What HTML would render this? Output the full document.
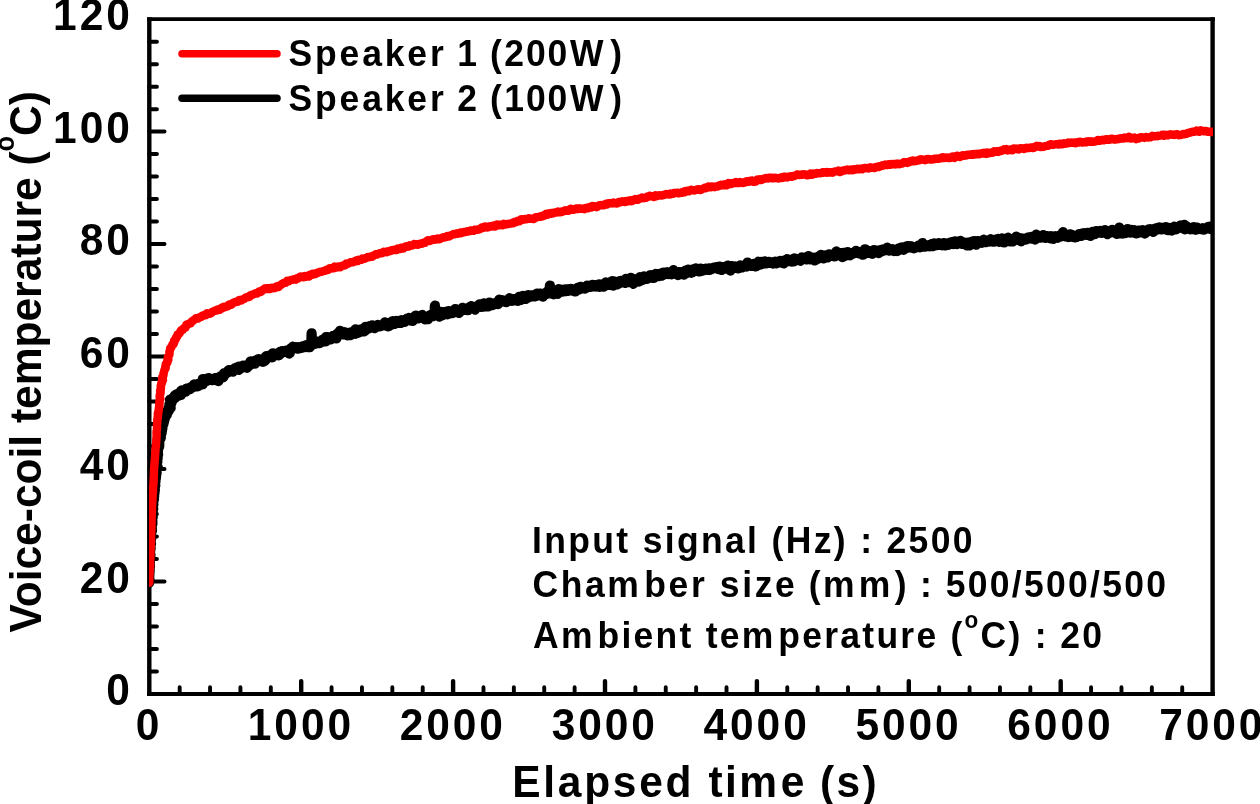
<!DOCTYPE html>
<html lang="en"><head><meta charset="utf-8"><title>Voice-coil temperature vs elapsed time</title>
<style>
html,body{margin:0;padding:0;background:#fff;}
body{width:1260px;height:804px;overflow:hidden;}
svg{display:block;}
text{font-family:"Liberation Sans", Arial, Helvetica, sans-serif;font-weight:700;fill:#000;}
.tk{font-size:42.5px;letter-spacing:2.9px;}
.ax{font-size:42.5px;letter-spacing:2.56px;}
.ay{font-size:42.5px;letter-spacing:0px;}
.lg{font-size:35.5px;letter-spacing:2.67px;}
.an{font-size:35.5px;}
</style></head><body>
<svg width="1260" height="804" viewBox="0 0 1260 804">
<rect width="1260" height="804" fill="#fff"/>
<path d="M149.30 17.20V695.95M1212.60 17.20V695.95" stroke="#000" stroke-width="4.4" fill="none"/>
<path d="M147.10 19.15H1214.80M147.10 694.00H1214.80" stroke="#000" stroke-width="3.9" fill="none"/>
<g fill="none" stroke="#000" stroke-linecap="round"><path d="M149.3 671.50h7.6M149.3 649.01h7.6M149.3 626.51h7.6M149.3 604.02h7.6M149.3 581.52h15.2M149.3 559.03h7.6M149.3 536.53h7.6M149.3 514.04h7.6M149.3 491.54h7.6M149.3 469.05h15.2M149.3 446.55h7.6M149.3 424.06h7.6M149.3 401.56h7.6M149.3 379.07h7.6M149.3 356.57h15.2M149.3 334.08h7.6M149.3 311.58h7.6M149.3 289.09h7.6M149.3 266.60h7.6M149.3 244.10h15.2M149.3 221.60h7.6M149.3 199.11h7.6M149.3 176.62h7.6M149.3 154.12h7.6M149.3 131.62h15.2M149.3 109.13h7.6M149.3 86.63h7.6M149.3 64.14h7.6M149.3 41.64h7.6" stroke-width="4"/><path d="M179.68 693.6v-6.4M210.06 693.6v-6.4M240.44 693.6v-6.4M270.82 693.6v-6.4M331.58 693.6v-6.4M361.96 693.6v-6.4M392.34 693.6v-6.4M422.72 693.6v-6.4M483.48 693.6v-6.4M513.86 693.6v-6.4M544.24 693.6v-6.4M574.62 693.6v-6.4M635.38 693.6v-6.4M665.76 693.6v-6.4M696.14 693.6v-6.4M726.52 693.6v-6.4M787.28 693.6v-6.4M817.66 693.6v-6.4M848.04 693.6v-6.4M878.42 693.6v-6.4M939.18 693.6v-6.4M969.56 693.6v-6.4M999.94 693.6v-6.4M1030.32 693.6v-6.4M1091.08 693.6v-6.4M1121.46 693.6v-6.4M1151.84 693.6v-6.4M1182.22 693.6v-6.4" stroke-width="3.9"/><path d="M301.20 693.4v-12.3M453.10 693.4v-12.3M605.00 693.4v-12.3M756.90 693.4v-12.3M908.80 693.4v-12.3M1060.70 693.4v-12.3" stroke-width="4.4"/></g>
<clipPath id="pc"><rect x="149.0" y="19.15" width="1064.0" height="674.85"/></clipPath>
<g clip-path="url(#pc)" fill="none" stroke-linejoin="round" stroke-linecap="round">
<polyline points="149.1,582.8 149.0,582.3 148.6,581.8 149.0,581.3 149.2,580.8 149.6,580.3 149.4,579.8 149.3,579.3 149.3,578.8 149.3,578.3 149.2,577.8 149.3,577.3 149.0,576.8 149.1,576.3 149.2,575.8 149.4,575.3 149.3,574.8 149.3,574.3 149.1,573.8 149.4,573.3 149.4,572.8 149.6,572.3 149.5,571.8 149.4,571.3 149.5,570.8 149.7,570.3 149.6,569.8 149.3,569.3 148.7,568.8 149.1,568.3 149.4,567.8 149.9,567.3 149.9,566.8 149.9,566.3 149.8,565.8 149.7,565.3 149.8,564.8 149.6,564.3 149.5,563.8 149.5,563.3 149.9,562.8 149.9,562.3 149.7,561.8 149.3,561.3 149.6,560.8 149.8,560.3 150.1,559.8 149.7,559.3 149.9,558.8 149.9,558.3 150.0,557.8 149.8,557.3 149.9,556.8 150.1,556.3 150.3,555.8 150.5,555.3 150.5,554.8 150.3,554.3 149.8,553.8 149.9,553.3 150.0,552.8 150.1,552.3 150.0,551.8 150.2,551.3 150.0,550.8 149.9,550.3 149.4,549.8 149.8,549.3 150.1,548.8 150.7,548.3 150.6,547.8 150.5,547.3 150.4,546.8 150.4,546.3 150.3,545.8 150.1,545.3 150.5,544.8 150.7,544.3 151.0,543.9 150.7,543.3 150.6,542.8 150.7,542.3 150.7,541.8 150.7,541.3 150.6,540.8 150.5,540.3 150.7,539.8 150.9,539.3 150.9,538.8 151.2,538.4 150.9,537.8 151.1,537.3 150.7,536.8 150.8,536.3 150.8,535.8 150.9,535.3 150.9,534.8 150.8,534.3 150.8,533.8 150.7,533.3 150.8,532.8 151.0,532.3 151.4,531.9 151.6,531.4 152.0,530.9 151.9,530.4 151.8,529.9 151.7,529.4 151.5,528.9 151.8,528.4 151.4,527.8 151.7,527.4 151.3,526.8 151.6,526.4 151.6,525.9 151.8,525.4 152.0,524.9 152.2,524.4 152.4,523.9 152.1,523.4 152.0,522.9 152.0,522.4 152.3,521.9 152.4,521.4 152.4,520.9 152.2,520.4 152.0,519.9 151.9,519.4 152.0,518.9 152.0,518.4 152.4,517.9 152.7,517.4 152.6,516.9 152.6,516.4 152.4,515.9 152.8,515.4 152.8,514.9 152.9,514.4 152.5,513.9 152.4,513.4 152.4,512.9 152.5,512.4 152.7,511.9 152.4,511.4 152.6,510.9 152.5,510.4 153.0,509.9 152.9,509.4 153.2,508.9 152.8,508.4 152.9,507.9 152.6,507.4 152.8,506.9 152.8,506.4 152.9,505.9 153.1,505.4 153.2,504.9 153.4,504.4 153.4,503.9 153.1,503.4 152.9,502.9 153.0,502.4 152.9,501.9 153.2,501.4 153.3,500.9 153.6,500.4 153.7,499.9 153.9,499.5 154.0,499.0 153.8,498.4 153.8,497.9 153.8,497.4 153.9,496.9 154.1,496.5 154.2,496.0 154.0,495.5 153.9,494.9 153.7,494.4 154.2,494.0 154.4,493.5 154.5,493.0 154.2,492.5 154.1,491.9 154.3,491.5 154.7,491.0 154.8,490.5 154.9,490.0 154.7,489.5 154.3,489.0 154.5,488.5 154.5,488.0 154.9,487.5 154.8,487.0 154.7,486.5 155.1,486.0 155.3,485.5 155.1,485.0 155.1,484.5 154.8,484.0 155.1,483.5 154.8,483.0 155.3,482.5 155.2,482.0 155.5,481.5 155.5,481.0 155.4,480.5 154.9,480.0 154.9,479.5 155.4,479.0 155.8,478.5 155.9,478.1 155.7,477.5 155.8,477.0 155.9,476.5 156.1,476.1 155.8,475.5 156.0,475.1 156.2,474.6 156.2,474.1 156.5,473.6 156.4,473.1 156.6,472.6 156.0,472.0 156.0,471.5 156.2,471.1 156.5,470.6 156.2,470.0 156.3,469.6 156.4,469.1 156.6,468.6 157.0,468.1 157.4,467.7 157.7,467.2 157.3,466.6 157.1,466.1 156.6,465.6 156.7,465.1 156.5,464.6 156.7,464.1 156.5,463.5 156.8,463.1 157.0,462.6 157.3,462.1 157.4,461.6 157.3,461.1 157.1,460.6 156.7,460.0 156.8,459.6 157.2,459.1 157.5,458.6 157.7,458.1 157.4,457.6 157.4,457.1 157.2,456.6 157.3,456.1 157.7,455.6 158.0,455.1 158.1,454.7 157.8,454.1 157.7,453.6 157.6,453.1 157.9,452.6 157.7,452.1 158.0,451.6 157.8,451.1 158.0,450.6 157.9,450.1 157.9,449.6 157.9,449.1 158.0,448.6 158.3,448.1 158.5,447.7 158.9,447.2 159.2,446.7 159.2,446.2 159.1,445.7 158.9,445.2 159.3,444.7 159.3,444.2 159.3,443.7 159.2,443.2 159.3,442.7 159.2,442.2 159.0,441.7 158.8,441.1 159.0,440.6 159.0,440.1 159.0,439.6 159.5,439.2 159.8,438.8 160.6,438.4 160.5,437.9 160.8,437.4 160.4,436.8 160.6,436.4 160.2,435.8 159.8,435.2 159.7,434.7 160.2,434.2 161.1,433.9 161.5,433.5 161.6,433.0 161.1,432.4 161.4,431.9 161.7,431.5 161.9,431.0 161.6,430.4 161.1,429.8 161.8,429.4 162.0,429.0 162.4,428.6 162.2,428.0 162.4,427.5 162.4,427.0 162.1,426.4 161.7,425.8 161.4,425.3 162.0,424.9 163.2,424.7 163.4,424.2 163.4,423.7 163.0,423.1 163.4,422.6 163.5,422.2 163.2,421.5 164.0,421.3 163.9,420.7 164.4,420.3 164.4,419.8 164.6,419.3 164.1,418.7 163.8,418.0 164.3,417.7 165.0,417.4 165.4,417.0 164.9,416.3 165.1,415.8 165.4,415.4 166.0,415.1 166.8,414.9 166.6,414.3 166.3,413.6 165.2,412.6 165.9,412.3 166.4,412.0 167.6,412.1 167.6,411.5 168.4,411.4 168.8,411.0 168.7,410.4 168.4,409.7 168.6,409.2 168.5,408.6 169.2,408.4 169.5,408.0 170.7,408.0 170.2,407.2 170.1,406.6 169.4,405.7 169.7,405.3 169.5,404.7 170.2,404.4 170.1,403.9 170.7,403.5 171.4,403.3 171.2,402.7 171.7,402.3 170.4,401.2 170.2,400.5 170.0,399.7 171.2,399.7 172.6,400.0 172.2,399.1 172.5,398.7 172.6,398.1 174.2,398.6 174.5,398.2 175.0,398.0 174.4,396.8 174.7,396.4 174.7,395.6 175.8,395.9 175.8,395.3 176.1,394.8 176.4,394.4 177.8,395.4 178.6,395.7 179.0,395.3 178.7,394.0 179.4,394.1 179.9,394.0 181.0,394.9 181.2,394.3 181.2,393.3 181.0,391.8 181.0,390.9 181.4,390.5 182.4,391.3 183.4,392.1 183.9,392.0 184.5,392.1 184.8,391.6 185.4,391.6 185.5,390.7 185.8,390.3 186.4,390.2 186.2,388.7 186.7,388.6 187.4,389.0 187.7,388.4 188.3,388.5 188.8,388.4 189.8,389.4 190.2,388.9 190.3,388.1 190.7,387.7 191.0,387.1 191.9,387.8 192.1,387.2 192.7,387.3 192.8,386.4 193.5,386.6 193.7,385.9 193.8,384.8 194.2,384.4 194.7,384.5 195.6,385.2 196.1,385.0 197.3,386.5 197.5,385.8 198.2,386.2 197.8,384.0 198.3,383.9 199.1,384.3 199.4,384.0 200.4,384.8 200.8,384.4 201.0,383.9 201.4,383.5 201.4,382.2 202.8,384.2 202.9,383.1 203.3,382.8 202.6,379.8 202.8,379.1 203.4,379.1 204.1,379.5 204.6,379.4 205.1,379.2 205.8,379.5 206.9,381.0 207.1,380.3 207.6,380.0 207.6,378.5 208.2,378.5 208.5,378.0 209.0,378.0 210.0,379.3 210.7,379.9 211.3,380.0 211.7,379.9 212.3,380.1 212.9,380.2 213.4,379.9 213.6,379.1 214.3,379.5 214.8,379.4 215.4,379.5 215.4,378.2 216.2,378.7 216.7,378.8 218.3,381.1 218.2,379.6 218.9,379.9 218.4,377.6 219.1,378.0 219.6,377.7 219.9,377.3 220.3,376.9 220.6,376.3 221.3,376.6 221.9,376.8 222.5,377.1 223.1,377.3 223.5,376.8 223.6,375.8 223.6,374.4 223.8,373.5 224.2,373.2 225.0,374.0 225.6,374.0 225.9,373.3 226.3,373.0 226.6,372.5 227.2,372.5 227.4,371.8 228.2,372.3 228.2,371.1 228.5,370.4 228.8,370.0 229.8,371.0 230.3,370.9 230.5,370.3 231.4,371.1 232.0,371.2 232.8,371.7 233.1,371.2 233.5,371.0 234.0,370.7 234.1,369.8 234.5,369.5 234.6,368.4 235.4,369.0 235.9,368.9 236.5,369.1 236.5,367.7 237.5,368.8 238.3,369.4 239.0,369.8 238.9,368.1 238.8,366.6 239.4,366.7 240.1,367.1 240.6,367.1 241.3,367.4 241.9,367.6 242.5,367.7 242.6,366.6 242.8,365.7 243.5,366.3 244.1,366.4 244.3,365.5 245.1,366.2 245.7,366.3 246.8,367.8 247.2,367.5 247.6,367.0 247.8,366.3 248.2,365.8 248.8,366.1 249.2,365.6 249.3,364.6 249.6,363.9 249.9,363.3 250.3,363.1 250.3,361.6 250.9,361.9 251.3,361.3 252.1,362.0 252.5,361.7 253.2,362.3 254.3,363.6 254.8,363.6 254.9,362.4 255.0,361.2 255.3,360.6 256.2,361.6 256.5,361.0 257.0,360.8 257.3,360.2 257.8,360.1 258.0,359.3 258.5,359.2 259.1,359.4 260.3,361.1 260.8,361.2 261.2,360.8 261.6,360.3 262.2,360.6 263.1,361.7 263.6,361.5 263.9,360.9 264.3,360.5 264.9,360.9 265.3,360.4 265.5,359.4 265.3,357.3 265.7,357.1 266.0,356.2 266.7,356.9 267.1,356.6 267.7,356.8 268.2,356.7 268.9,357.1 269.4,357.1 269.8,356.7 269.9,355.4 270.6,355.9 271.5,356.9 272.1,357.3 272.5,356.7 272.4,354.8 272.6,354.0 272.9,353.3 274.0,355.0 274.6,355.2 275.0,354.7 275.5,354.6 275.8,354.0 276.5,354.7 276.8,353.9 277.6,354.7 278.0,354.3 278.9,355.4 279.2,354.7 279.6,354.2 279.4,352.3 280.0,352.4 280.3,351.6 281.1,352.6 281.8,353.0 282.2,352.6 282.2,351.0 282.7,351.0 283.6,352.1 283.9,351.5 284.3,351.1 284.8,350.9 285.6,351.8 286.2,352.0 286.2,350.6 287.0,351.3 287.4,351.0 288.6,353.1 289.3,353.5 289.7,353.1 289.6,351.1 289.6,349.7 290.1,349.5 290.7,349.8 290.8,348.4 291.6,349.4 292.1,349.2 292.5,348.8 292.6,347.3 292.9,346.7 293.7,347.5 294.2,347.4 294.7,347.4 295.3,347.5 295.7,347.3 296.5,348.3 297.2,348.6 297.7,348.7 298.0,347.8 298.3,347.1 299.0,347.8 299.6,348.2 300.1,348.1 300.5,347.4 301.0,347.6 301.6,347.8 302.0,347.3 302.3,346.7 302.7,346.3 303.2,346.2 303.8,346.5 304.4,346.7 305.0,347.0 305.4,346.4 305.6,345.4 306.4,346.3 307.2,347.1 307.6,346.7 307.6,345.0 308.2,345.4 309.2,346.8 309.8,347.2 310.1,346.6 310.0,344.5 310.5,344.3 310.9,343.8 311.3,343.4 311.6,333.3 312.1,342.6 313.1,344.3 313.6,344.2 314.0,343.8 314.6,343.9 315.1,343.9 315.2,342.8 315.4,341.6 315.9,341.4 316.9,342.9 317.4,342.9 317.8,342.5 318.5,343.1 318.8,342.5 319.6,343.2 319.7,342.0 320.4,342.7 320.9,342.4 321.3,342.2 321.7,341.6 321.9,340.5 322.2,339.9 322.7,339.6 323.4,340.2 323.9,340.3 324.3,339.9 325.0,340.6 325.8,341.3 325.9,337.1 326.2,339.1 326.2,337.5 326.6,337.1 327.1,337.1 327.6,337.0 328.5,338.1 328.7,337.3 329.5,338.1 330.3,338.9 330.9,339.3 331.3,338.8 331.5,337.8 332.0,337.6 332.2,336.5 332.7,336.4 333.0,335.8 333.7,336.3 334.3,336.6 335.0,337.1 335.6,337.5 336.4,338.5 336.5,336.9 336.7,336.1 336.7,334.0 337.4,334.9 337.7,333.9 338.3,334.2 338.8,334.3 339.4,334.6 339.9,330.8 340.3,334.0 340.5,332.9 341.2,333.6 341.8,333.6 342.5,334.4 342.9,333.8 343.3,333.5 343.6,332.6 344.2,332.9 344.5,332.2 345.3,333.3 345.7,332.7 346.7,334.5 347.4,335.3 347.9,335.3 348.0,333.9 348.3,332.8 348.9,333.3 349.8,334.8 350.5,335.2 350.7,334.1 351.0,333.5 351.4,332.8 351.9,332.8 352.2,331.9 352.8,332.4 353.4,332.7 354.1,333.4 354.7,333.7 355.2,333.8 355.2,331.6 355.2,329.7 355.6,329.3 356.5,330.6 357.6,332.9 358.0,332.7 358.5,332.5 358.8,331.6 359.5,332.2 359.9,332.0 360.4,331.6 360.5,330.1 360.9,329.6 361.5,329.9 361.9,329.6 362.7,330.6 363.1,330.2 363.9,331.4 364.4,331.2 364.8,331.0 364.9,329.0 365.1,327.7 365.4,326.8 366.3,328.6 366.8,328.4 367.2,328.1 367.5,327.2 368.4,328.6 368.7,328.0 369.1,327.2 369.4,326.7 369.8,326.1 370.6,327.0 370.9,326.2 371.4,326.4 371.8,325.8 372.2,325.4 373.0,326.3 373.6,326.7 374.4,328.2 374.9,327.9 375.3,327.6 375.5,326.2 376.0,326.1 376.6,326.6 376.9,325.6 377.5,326.0 377.8,324.9 378.5,326.0 379.0,325.7 379.6,326.4 380.2,326.4 380.5,325.9 381.0,325.4 381.4,325.2 381.9,325.2 382.4,325.0 383.0,325.4 383.5,325.5 384.0,325.4 384.2,324.0 384.7,323.7 384.9,322.3 385.7,323.5 386.0,322.9 386.9,324.7 387.7,326.1 388.3,326.3 388.8,326.2 388.9,324.5 389.4,324.3 389.6,322.9 390.1,322.9 390.9,324.0 391.5,324.7 391.7,323.3 391.9,321.7 392.3,321.2 393.2,322.9 393.8,323.7 394.4,323.9 394.9,323.7 395.3,323.3 395.7,322.9 396.0,321.9 396.3,320.8 396.9,321.1 397.5,321.3 398.3,323.0 398.6,321.8 398.9,320.9 399.4,320.8 400.1,321.7 400.8,323.0 401.1,321.7 401.6,321.6 401.8,320.2 402.5,320.8 402.9,320.3 403.5,321.0 404.1,321.3 404.7,322.0 404.9,320.4 405.4,320.2 405.9,319.9 406.4,320.3 406.7,319.0 407.1,318.6 407.8,319.5 408.3,319.6 408.6,318.4 409.1,318.0 409.6,318.2 410.6,320.6 410.8,319.4 411.6,320.7 412.0,320.1 412.7,320.9 413.0,320.3 413.3,319.1 413.9,319.4 414.1,317.8 414.6,317.7 414.9,316.4 415.2,315.8 415.7,315.5 416.3,315.7 417.0,317.0 417.7,318.0 418.3,318.3 418.7,317.9 419.1,317.2 419.4,316.3 419.9,316.4 420.4,316.3 421.1,317.3 421.5,316.4 421.7,315.2 422.2,315.0 422.9,315.9 423.8,317.9 424.5,318.7 425.1,319.4 425.5,318.7 426.0,318.6 426.3,317.5 426.8,317.6 427.2,317.3 428.1,319.1 428.5,318.7 428.7,317.2 429.1,316.3 429.5,315.5 430.1,316.2 430.4,315.0 430.8,314.9 431.5,315.6 432.1,316.1 432.6,316.2 433.0,315.3 433.3,314.6 434.0,315.3 434.4,314.9 434.9,305.7 435.2,313.8 435.7,313.7 436.3,314.3 436.8,314.0 437.3,314.2 437.8,314.2 438.7,316.2 439.3,316.7 439.4,314.5 439.6,312.6 439.9,311.7 440.8,313.7 441.5,314.9 442.2,315.5 442.3,313.8 442.7,312.9 443.1,312.4 443.9,314.0 444.5,314.5 444.9,313.6 445.4,313.9 445.6,311.9 446.2,312.5 446.6,311.9 447.5,314.3 447.9,313.7 448.2,312.3 448.5,311.2 449.0,311.2 449.9,313.1 450.2,312.2 450.6,311.9 451.1,311.7 451.7,312.1 452.4,313.1 452.6,311.3 453.2,312.2 453.5,311.1 454.3,312.4 454.5,310.6 454.8,309.9 455.2,309.0 455.8,309.7 456.7,311.5 457.2,311.8 457.8,312.0 458.2,311.3 459.0,313.0 459.3,311.9 459.8,312.2 460.0,310.1 460.6,310.7 460.9,309.5 461.5,310.3 461.8,309.3 462.3,308.7 462.6,307.8 463.1,307.9 463.8,309.1 464.5,309.8 465.0,310.0 465.5,310.0 465.8,308.9 466.4,309.3 466.8,308.7 467.6,310.2 468.1,310.2 468.5,309.5 468.7,307.7 469.3,308.3 469.7,307.7 470.2,307.9 470.6,306.8 470.9,306.2 471.4,306.1 472.1,306.9 472.9,308.5 473.3,308.1 473.8,307.8 474.3,307.9 475.1,309.6 475.5,308.6 475.8,308.0 476.1,306.6 476.7,306.9 477.2,307.2 477.7,307.0 478.1,306.5 478.4,305.4 478.9,305.0 479.3,304.5 479.8,304.8 480.3,304.7 481.0,305.8 481.7,306.9 482.2,306.5 482.6,306.2 483.1,306.1 483.7,306.6 484.0,305.2 484.1,303.3 484.7,303.7 485.5,305.1 486.3,306.5 486.5,305.3 487.1,305.5 487.7,305.9 488.3,306.4 488.6,305.2 488.7,303.1 489.2,303.5 489.6,302.5 490.4,304.0 490.8,303.8 491.5,304.8 492.1,305.2 492.5,304.4 493.0,304.6 493.4,304.0 494.0,304.2 494.3,303.5 494.9,303.6 495.4,303.7 495.9,303.7 496.2,302.8 496.7,302.5 497.5,304.0 498.0,304.1 498.5,303.8 498.6,301.7 498.9,300.8 499.2,299.7 499.8,300.4 500.5,301.2 501.1,301.6 501.4,300.5 501.8,300.2 502.4,300.4 502.9,300.4 503.5,300.7 504.0,301.0 504.7,301.7 505.3,301.9 505.6,301.3 506.3,302.1 506.5,300.8 507.2,301.4 507.6,300.8 508.2,301.2 508.6,300.9 508.9,299.6 509.2,298.8 509.6,298.3 510.2,298.6 510.9,299.8 511.5,299.9 512.1,300.7 512.6,300.4 513.1,300.5 513.6,300.1 514.0,299.6 514.4,299.1 515.1,300.3 515.4,299.3 516.0,299.4 516.3,298.7 517.1,300.0 517.8,300.9 518.2,300.6 518.5,299.4 518.8,298.2 519.0,296.9 519.8,298.2 520.5,299.2 521.1,299.8 521.6,299.4 521.8,298.1 522.2,297.4 522.6,296.7 522.9,295.8 523.5,296.3 524.1,296.6 524.8,298.0 525.5,299.0 526.0,298.6 526.4,298.2 526.8,297.6 527.4,298.0 527.5,296.0 527.9,295.2 528.4,295.2 529.1,296.2 529.7,296.8 530.2,296.7 530.6,296.2 531.1,295.8 531.5,295.3 532.2,296.5 532.5,295.5 533.0,295.5 533.5,295.0 534.2,296.4 534.7,296.4 535.2,296.3 535.6,295.8 536.0,294.9 536.5,294.7 536.8,293.5 537.3,293.7 537.9,294.5 538.6,295.4 539.1,295.4 539.4,294.4 539.9,293.8 540.4,294.2 540.8,293.5 541.6,295.0 542.0,294.4 542.8,296.6 543.2,295.9 543.7,295.5 544.0,294.5 544.4,293.8 545.0,294.3 545.5,294.3 545.9,293.7 546.3,292.9 546.7,292.1 547.1,291.6 547.6,291.8 548.2,292.2 548.9,293.2 549.4,293.4 549.9,285.5 550.4,293.4 550.7,291.9 551.2,291.9 551.6,291.2 552.4,293.0 553.0,293.7 553.6,294.3 554.0,293.7 554.5,293.9 554.9,292.7 555.4,292.6 555.6,290.6 556.3,292.2 556.9,293.1 557.6,293.9 557.8,292.2 558.0,289.8 558.4,289.1 558.9,289.6 559.6,290.7 560.1,290.6 560.5,290.1 561.0,289.6 561.7,290.8 562.3,291.4 562.8,291.6 563.3,291.3 563.7,290.8 564.0,289.5 564.5,289.5 565.0,289.4 565.8,291.1 566.1,289.8 566.6,290.2 567.0,289.3 567.7,290.6 568.2,290.8 568.7,290.2 569.0,289.2 569.5,289.0 570.0,289.1 570.5,289.3 571.0,289.0 571.6,289.5 572.2,290.5 572.7,290.2 573.2,290.2 573.7,290.2 574.4,291.3 574.8,291.2 575.4,291.4 575.8,290.6 576.3,290.6 576.7,289.9 577.0,288.5 577.4,287.9 577.9,287.7 578.5,288.2 579.1,289.4 579.5,288.3 580.0,288.1 580.3,286.8 580.9,287.5 581.5,288.4 582.0,288.0 582.6,288.5 582.9,287.4 583.5,287.9 584.0,287.9 584.5,288.1 585.1,288.6 585.5,288.0 586.0,288.0 586.4,287.3 586.7,286.0 587.2,285.6 587.7,285.8 588.4,286.9 588.8,286.3 589.4,286.8 589.9,286.9 590.4,286.9 590.7,285.6 591.2,285.5 591.6,285.1 592.2,285.2 592.6,284.8 593.3,285.8 593.8,286.2 594.4,286.4 594.8,286.0 595.3,285.6 595.9,286.6 596.4,286.2 596.9,286.2 597.2,284.9 597.7,285.3 598.4,286.2 598.9,286.1 599.5,286.9 599.6,284.4 600.2,285.0 600.8,285.2 601.4,286.2 601.9,286.2 602.3,285.5 603.0,286.5 603.5,286.7 604.0,286.5 604.3,285.2 604.6,283.9 605.0,283.0 605.5,283.0 605.9,282.5 606.4,282.7 607.1,283.9 607.8,284.9 608.3,284.7 608.8,284.6 609.0,283.0 609.5,283.1 609.9,282.2 610.7,284.0 611.3,284.8 611.9,285.1 612.4,281.1 612.9,285.1 613.5,285.6 613.8,284.3 614.0,282.7 614.3,281.5 615.0,282.5 615.7,283.7 616.3,284.5 616.8,284.3 617.3,284.4 617.8,284.3 618.2,283.3 618.7,283.6 619.0,282.4 619.6,282.7 619.8,281.0 620.5,281.8 620.8,280.8 621.6,282.5 621.9,281.2 622.6,282.2 622.9,281.1 623.4,281.3 624.0,281.8 624.5,281.5 625.2,282.9 625.5,281.4 625.9,281.0 626.0,278.8 626.7,279.7 627.4,280.7 628.1,282.1 628.5,281.6 628.8,280.4 629.6,281.7 630.2,282.2 630.6,281.6 630.8,279.9 630.9,277.8 631.8,279.9 632.6,281.3 633.5,283.8 633.8,282.8 634.0,281.1 634.2,279.2 634.8,279.6 635.3,279.4 635.9,280.0 636.2,279.2 636.8,279.4 637.4,280.1 638.2,281.4 638.7,281.6 639.1,280.9 639.3,279.0 639.6,278.0 639.9,277.2 640.7,278.4 641.3,279.2 642.0,280.3 642.5,279.9 642.9,279.3 643.1,277.8 643.5,277.2 643.8,276.4 644.7,278.3 645.3,278.5 645.9,279.0 646.4,278.9 646.8,278.3 647.3,278.8 647.6,277.3 648.2,277.6 648.5,276.9 649.1,277.2 649.7,277.8 650.1,277.1 650.3,275.2 650.7,275.1 651.4,275.9 652.2,277.8 652.5,276.6 653.2,277.4 653.8,277.9 654.2,277.3 654.6,276.7 654.8,275.0 655.2,274.6 655.6,273.9 656.3,274.6 656.8,274.7 657.2,274.0 657.7,274.3 658.4,275.1 659.0,276.1 659.3,274.5 659.7,274.0 660.2,273.7 660.8,274.5 661.4,274.9 662.0,275.7 662.5,275.6 662.8,274.5 663.1,272.8 663.6,272.6 664.3,274.2 664.8,274.3 665.3,273.9 665.7,273.0 666.1,272.9 666.6,272.5 667.1,272.3 667.7,273.3 668.3,274.1 668.8,274.0 669.3,273.5 669.6,272.4 670.2,273.2 670.8,273.4 671.4,274.4 671.7,272.7 672.3,273.6 672.6,271.5 673.1,271.9 673.4,270.1 674.2,272.4 674.7,272.2 675.3,272.9 675.7,272.4 676.3,273.3 676.9,273.7 677.5,274.7 678.0,275.2 678.5,274.5 678.7,272.1 679.3,272.8 679.8,272.8 680.3,273.0 680.7,272.1 681.3,273.1 681.9,274.1 682.3,273.2 682.9,273.6 683.4,273.9 684.0,274.7 684.4,273.8 684.7,271.8 685.2,271.4 685.6,270.5 686.4,273.2 686.8,272.7 687.3,272.3 687.5,269.8 688.0,269.5 688.5,269.5 689.1,270.5 689.6,270.8 690.3,272.1 690.8,272.2 691.3,272.6 691.8,272.1 692.3,272.2 692.7,271.4 693.0,269.5 693.5,269.3 694.0,269.1 694.7,270.9 695.1,270.1 695.5,269.2 695.9,268.4 696.5,269.5 697.2,270.8 697.7,270.9 698.1,270.2 698.7,271.4 699.3,271.5 699.7,271.3 700.1,269.8 700.4,268.5 701.0,269.4 701.7,270.5 702.2,271.0 702.7,270.4 703.1,269.9 703.6,270.2 704.1,269.6 704.6,269.8 705.0,269.2 705.5,269.1 706.0,268.5 706.5,269.2 707.1,269.4 707.6,269.5 708.1,269.8 708.6,269.3 709.0,269.1 709.5,268.3 710.1,269.8 710.5,268.8 711.0,268.9 711.5,268.3 712.0,269.0 712.5,268.8 712.9,268.0 713.5,268.3 713.9,267.7 714.4,267.9 714.9,267.6 715.4,267.3 715.9,267.5 716.4,267.2 717.0,268.3 717.6,268.7 718.1,269.1 718.5,268.1 719.0,267.8 719.3,266.5 719.8,266.7 720.4,267.6 721.1,268.6 721.7,270.0 722.1,268.8 722.6,268.8 722.9,267.0 723.5,267.7 724.0,267.5 724.6,268.6 725.1,268.2 725.6,268.6 726.1,268.4 726.5,268.0 727.0,267.6 727.4,266.9 727.7,265.5 728.3,265.8 729.0,267.5 729.7,269.5 730.4,270.6 730.8,269.6 731.1,268.2 731.3,266.0 731.9,266.1 732.5,266.9 733.0,267.4 733.5,267.4 733.9,266.6 734.5,267.0 734.9,266.3 735.5,267.0 736.0,267.4 736.5,267.5 737.1,268.2 737.7,268.3 738.1,267.9 738.7,268.5 739.0,266.8 739.5,267.1 739.9,266.1 740.3,265.3 740.9,266.0 741.4,266.1 742.1,267.4 742.5,266.8 742.9,266.1 743.4,266.0 744.0,266.4 744.4,265.9 744.9,265.9 745.4,265.3 745.9,266.0 746.5,266.6 746.9,265.3 747.1,263.4 747.5,262.5 748.1,263.3 748.7,263.8 749.2,264.0 749.8,264.4 750.4,265.2 751.0,266.0 751.3,264.9 751.8,264.6 752.3,264.7 753.0,265.8 753.4,265.0 753.7,263.8 754.3,264.1 755.0,266.1 755.6,266.4 756.1,266.3 756.3,264.2 756.7,263.6 757.2,263.6 757.7,263.6 758.3,263.7 758.5,261.7 759.2,263.2 759.7,263.1 760.4,264.6 760.6,262.7 761.1,261.9 761.7,262.6 762.2,263.4 762.8,263.8 763.2,263.0 763.8,263.5 764.2,262.6 764.6,261.6 765.0,261.3 765.7,262.6 766.3,263.4 766.7,263.1 767.2,263.0 767.7,262.9 768.2,262.7 768.7,262.4 769.1,261.9 769.7,262.4 770.2,262.8 770.7,262.9 771.2,262.7 771.7,262.7 772.3,263.2 772.8,263.6 773.2,262.7 773.8,263.1 774.1,261.8 774.7,262.9 775.1,261.7 775.8,263.0 776.3,263.2 776.7,262.4 777.2,262.3 777.6,261.7 778.2,262.5 778.7,262.2 779.1,261.6 779.7,261.9 780.1,260.8 780.6,261.6 781.2,261.7 781.7,262.8 782.2,261.8 782.7,262.5 783.3,263.2 783.8,263.5 784.2,262.0 784.6,260.4 785.1,260.9 785.7,261.7 786.2,261.5 786.5,259.7 787.0,259.3 787.5,259.7 788.1,261.1 788.6,261.1 789.1,260.4 789.6,260.3 790.0,259.8 790.6,260.7 791.2,261.4 791.7,261.6 792.1,260.8 792.6,260.7 793.2,261.1 793.7,261.5 794.0,259.5 794.4,258.4 794.9,258.5 795.6,260.0 796.1,260.1 796.6,260.2 797.0,259.4 797.5,259.4 798.0,259.3 798.5,259.5 799.1,259.8 799.6,260.0 800.2,260.8 800.6,260.3 801.0,259.5 801.4,257.9 801.8,257.4 802.4,257.7 802.9,258.2 803.4,257.8 803.9,258.0 804.4,257.7 805.0,258.7 805.5,258.6 806.1,259.3 806.6,259.5 806.9,257.9 807.4,257.9 807.8,257.6 808.4,257.9 808.6,256.0 809.3,257.2 809.9,258.1 810.6,259.5 811.1,259.0 811.5,258.8 811.9,257.7 812.4,257.7 813.0,258.3 813.7,259.5 814.3,260.0 814.9,260.5 815.2,259.6 815.5,258.2 815.9,257.5 816.5,258.1 817.1,258.4 817.6,258.4 818.1,258.7 818.6,258.2 819.0,257.6 819.3,256.7 819.8,256.8 820.2,255.9 820.6,255.1 821.0,254.8 821.6,255.1 822.4,256.8 823.1,258.1 823.7,258.4 824.1,258.1 824.4,256.6 824.8,256.0 825.2,255.4 825.7,255.5 826.3,256.2 826.9,256.4 827.5,257.5 828.0,257.1 828.3,255.9 828.7,254.8 829.1,254.4 829.8,255.4 830.3,256.0 830.8,255.8 831.3,255.5 831.7,255.1 832.2,254.8 832.7,254.8 833.2,254.8 833.8,255.8 834.4,256.3 834.9,256.3 835.3,256.0 835.7,254.3 836.0,252.3 836.4,251.4 837.1,253.2 837.7,254.9 838.2,254.1 838.6,252.9 839.1,253.1 839.6,253.3 840.2,254.0 840.6,253.0 841.2,254.8 841.7,254.5 842.4,257.1 842.8,255.6 843.3,255.7 843.6,252.8 844.2,254.3 844.7,254.2 845.3,255.7 845.7,254.9 846.2,254.1 846.6,253.0 847.1,252.1 847.6,252.1 848.1,252.6 848.7,254.0 849.2,255.2 849.8,255.3 850.2,254.2 850.7,253.9 851.1,253.0 851.6,253.4 852.2,253.5 852.7,253.8 853.1,253.3 853.6,252.4 854.1,252.8 854.6,252.9 855.1,252.1 855.5,251.4 856.0,250.9 856.6,252.7 857.1,252.9 857.6,252.6 858.1,251.7 858.6,252.1 859.2,253.3 859.6,252.9 860.1,252.5 860.6,252.4 861.2,253.3 861.7,253.4 862.3,254.7 862.7,253.9 863.3,254.7 863.7,253.2 864.1,252.3 864.5,250.6 864.9,249.4 865.4,249.4 866.0,250.8 866.6,251.6 867.2,253.0 867.6,251.6 868.1,252.0 868.5,250.9 869.1,252.0 869.6,251.8 870.1,252.1 870.5,251.4 871.2,252.9 871.8,253.5 872.3,254.0 872.6,251.8 873.0,251.1 873.4,250.7 873.9,250.2 874.5,251.4 875.0,251.3 875.7,252.4 876.1,251.4 876.5,251.0 877.0,250.6 877.6,251.5 878.2,252.0 878.8,253.1 879.1,251.9 879.5,250.9 880.0,250.9 880.5,250.2 881.0,250.3 881.4,249.9 882.1,251.3 882.5,250.8 883.0,250.1 883.4,249.4 884.0,250.2 884.4,249.8 885.0,250.2 885.4,249.9 886.0,250.2 886.3,248.4 886.8,248.6 887.2,247.5 887.9,249.3 888.4,249.7 889.1,250.6 889.5,250.2 890.0,249.9 890.5,250.2 891.0,250.3 891.5,250.1 892.0,249.9 892.4,249.1 893.0,250.2 893.6,250.6 894.1,251.1 894.6,250.5 895.0,250.0 895.5,249.8 896.0,249.7 896.6,250.5 897.2,251.1 897.5,249.7 897.9,249.0 898.4,248.5 899.0,249.7 899.4,249.0 899.9,248.3 900.3,247.8 900.8,247.7 901.3,247.6 901.8,247.5 902.4,248.5 903.0,249.2 903.6,249.8 903.9,248.5 904.4,248.7 904.8,247.9 905.3,247.8 905.8,247.0 906.2,246.4 906.7,246.7 907.2,246.4 907.8,247.7 908.3,247.5 908.8,247.0 909.2,246.0 909.7,246.4 910.3,247.1 910.9,247.7 911.3,246.9 911.7,246.5 912.3,246.9 912.8,247.5 913.4,248.3 913.9,247.6 914.4,247.9 914.9,247.5 915.3,247.1 915.8,247.3 916.3,247.0 916.8,247.1 917.3,246.8 917.8,246.8 918.2,245.7 918.7,245.5 919.3,246.4 919.9,247.4 920.2,246.0 920.7,245.6 921.3,246.6 921.8,246.6 922.1,244.4 922.5,243.0 923.1,243.9 923.8,246.1 924.3,246.7 924.8,246.7 925.3,246.5 925.8,246.2 926.3,246.2 926.8,245.8 927.2,245.5 927.8,245.9 928.3,246.1 928.8,246.0 929.3,246.2 929.7,245.5 930.2,245.6 930.7,245.0 931.1,244.2 931.6,244.1 932.2,244.5 932.8,246.2 933.3,245.6 933.7,244.5 934.1,243.3 934.6,243.8 935.2,244.3 935.6,243.9 936.1,244.2 936.6,244.2 937.2,245.1 937.7,244.4 938.2,244.2 938.6,243.1 939.1,243.6 939.6,243.8 940.2,244.8 940.6,243.9 941.2,244.5 941.8,245.3 942.2,244.8 942.7,244.2 943.1,243.6 943.6,243.2 944.1,243.2 944.6,243.5 945.3,245.5 945.8,245.2 946.2,244.4 946.6,243.6 947.2,243.8 947.7,244.9 948.2,244.8 948.7,244.3 949.2,243.9 949.6,242.8 950.1,243.2 950.6,242.6 951.1,242.5 951.6,242.6 952.0,242.1 952.7,243.9 953.2,244.2 953.7,243.9 954.1,242.6 954.5,241.7 955.0,241.3 955.6,242.4 956.1,242.5 956.7,244.1 957.1,242.4 957.6,242.3 958.0,241.9 958.5,241.9 959.1,242.3 959.5,241.1 960.1,242.3 960.5,240.9 961.1,242.2 961.6,243.1 962.2,244.0 962.7,243.5 963.2,243.3 963.6,243.0 964.1,243.0 964.6,242.7 965.2,243.2 965.7,244.2 966.3,244.4 966.8,245.4 967.3,244.4 967.8,244.3 968.1,242.6 968.7,243.2 969.2,243.6 969.8,245.5 970.2,244.2 970.7,242.9 971.1,241.9 971.6,242.1 972.1,242.5 972.6,242.4 973.1,242.6 973.6,241.9 974.0,241.0 974.6,241.4 975.1,242.5 975.7,243.3 976.3,244.7 976.7,243.0 977.1,242.4 977.5,241.0 978.1,241.2 978.6,241.7 979.1,241.7 979.6,242.5 980.1,242.1 980.6,242.1 981.1,242.1 981.7,242.7 982.1,242.4 982.6,241.6 983.0,240.4 983.5,239.7 984.0,240.2 984.5,240.7 985.1,241.5 985.6,241.5 986.1,242.2 986.6,241.6 987.1,241.0 987.6,240.9 988.1,241.1 988.6,241.0 989.0,240.2 989.6,241.6 990.0,240.0 990.6,240.9 990.9,239.2 991.6,241.3 992.0,240.4 992.5,240.0 993.1,241.5 993.6,241.4 994.1,241.5 994.5,240.5 995.1,241.0 995.6,241.1 996.0,240.4 996.5,239.3 997.0,240.1 997.5,239.6 997.9,238.9 998.4,238.9 999.0,240.1 999.6,241.8 1000.1,240.8 1000.6,241.0 1001.0,240.1 1001.5,239.0 1001.9,238.3 1002.5,239.5 1003.1,241.2 1003.7,242.4 1004.2,242.4 1004.7,241.8 1005.1,240.3 1005.6,240.3 1006.1,240.4 1006.6,240.4 1006.9,238.6 1007.4,238.4 1007.9,237.7 1008.5,238.9 1009.0,239.1 1009.6,240.4 1010.1,241.3 1010.6,241.1 1011.2,241.5 1011.5,239.6 1012.0,239.7 1012.5,239.4 1013.1,241.3 1013.6,240.4 1014.0,239.6 1014.4,238.4 1015.0,239.0 1015.5,238.5 1015.9,237.3 1016.3,236.6 1016.9,237.1 1017.4,237.2 1018.0,239.1 1018.6,240.0 1019.0,239.6 1019.4,238.1 1019.9,238.2 1020.6,240.3 1021.2,241.3 1021.5,239.6 1022.0,238.4 1022.5,238.5 1023.0,239.4 1023.5,239.3 1024.0,238.8 1024.5,239.4 1025.1,239.7 1025.6,239.5 1026.1,239.5 1026.5,239.0 1027.0,238.2 1027.4,237.9 1027.9,237.5 1028.5,238.3 1028.9,237.3 1029.5,238.5 1029.9,237.4 1030.5,238.5 1031.0,238.1 1031.5,238.7 1031.9,237.4 1032.4,237.0 1032.9,236.6 1033.3,236.4 1033.9,237.1 1034.5,238.1 1035.1,239.6 1035.5,238.0 1035.9,236.4 1036.2,234.5 1036.8,235.8 1037.4,237.5 1037.9,237.3 1038.4,237.5 1038.9,236.7 1039.4,237.1 1039.9,236.4 1040.4,237.0 1041.0,237.6 1041.5,237.5 1041.9,236.6 1042.3,235.8 1042.8,235.6 1043.3,235.1 1043.9,236.3 1044.3,236.0 1045.0,237.8 1045.4,236.4 1046.0,237.8 1046.4,236.4 1046.9,236.8 1047.4,236.1 1047.9,237.2 1048.5,237.7 1049.0,237.3 1049.5,237.9 1050.0,238.3 1050.5,237.7 1050.9,236.2 1051.4,237.0 1052.0,238.0 1052.6,238.6 1053.1,238.9 1053.5,238.3 1054.0,238.0 1054.4,236.3 1054.9,236.7 1055.4,236.8 1055.9,236.4 1056.4,236.6 1056.9,236.3 1057.5,237.8 1058.0,237.4 1058.4,236.4 1058.9,236.0 1059.4,235.6 1059.9,236.4 1060.4,236.5 1060.9,236.5 1061.4,236.3 1061.8,235.2 1062.2,233.8 1062.7,232.9 1063.1,232.1 1063.7,233.9 1064.3,234.0 1064.8,235.2 1065.3,235.1 1065.9,236.5 1066.4,236.3 1066.9,236.0 1067.4,235.7 1068.0,236.9 1068.5,237.1 1069.0,237.0 1069.4,235.9 1069.9,235.5 1070.3,234.3 1070.8,234.4 1071.3,234.7 1071.9,235.5 1072.5,236.8 1073.0,236.8 1073.5,237.1 1073.9,235.6 1074.5,236.5 1074.9,236.0 1075.5,237.4 1076.0,236.4 1076.5,237.0 1077.0,236.3 1077.5,236.3 1078.0,236.2 1078.4,235.5 1078.9,235.1 1079.3,234.1 1079.8,234.2 1080.4,235.8 1080.9,235.8 1081.4,235.9 1081.8,234.2 1082.4,234.6 1082.8,233.4 1083.3,233.4 1083.7,233.2 1084.3,233.5 1084.8,233.8 1085.3,234.5 1085.9,234.8 1086.4,234.5 1086.7,233.1 1087.2,232.8 1087.8,234.0 1088.4,234.7 1088.9,234.9 1089.4,234.7 1089.9,235.2 1090.5,235.9 1090.9,235.2 1091.3,234.0 1091.7,232.3 1092.2,232.0 1092.7,232.3 1093.3,233.7 1093.9,234.3 1094.4,234.1 1094.9,234.1 1095.3,233.0 1095.7,232.5 1096.1,231.1 1096.6,231.1 1097.1,231.5 1097.6,231.6 1098.2,231.7 1098.7,232.6 1099.2,232.1 1099.7,231.9 1100.1,230.8 1100.7,231.9 1101.3,232.8 1101.8,232.8 1102.2,232.2 1102.7,231.7 1103.2,232.3 1103.7,231.9 1104.1,230.6 1104.6,230.2 1105.0,230.0 1105.7,231.5 1106.2,232.2 1106.8,233.0 1107.4,234.2 1107.8,232.3 1108.3,232.4 1108.7,231.4 1109.3,232.9 1109.8,232.3 1110.2,232.1 1110.7,231.6 1111.2,232.1 1111.7,231.1 1112.1,229.9 1112.6,230.2 1113.2,231.3 1113.8,232.4 1114.3,232.4 1114.8,232.9 1115.2,232.1 1115.8,232.2 1116.3,232.4 1116.9,233.8 1117.3,233.7 1117.8,233.2 1118.2,231.6 1118.7,230.9 1119.2,227.6 1119.8,232.9 1120.3,233.5 1120.8,232.5 1121.2,231.4 1121.7,231.6 1122.3,233.1 1122.8,233.6 1123.3,232.7 1123.7,231.7 1124.2,231.4 1124.8,233.2 1125.3,233.2 1125.8,232.9 1126.2,231.2 1126.7,230.0 1127.1,229.3 1127.6,229.1 1128.1,229.3 1128.7,230.1 1129.2,230.5 1129.7,231.7 1130.3,232.6 1130.8,232.6 1131.2,232.0 1131.7,229.9 1132.2,230.1 1132.7,230.7 1133.2,231.5 1133.7,231.0 1134.2,230.2 1134.7,231.5 1135.3,232.1 1135.8,233.4 1136.2,232.0 1136.8,233.3 1137.3,232.0 1137.8,232.1 1138.2,230.5 1138.7,230.6 1139.3,232.4 1139.8,232.0 1140.2,231.8 1140.7,231.2 1141.3,232.2 1141.8,232.0 1142.2,231.0 1142.7,230.0 1143.2,230.3 1143.7,231.7 1144.3,232.7 1144.8,233.4 1145.3,233.1 1145.8,232.3 1146.3,232.1 1146.7,231.3 1147.2,230.8 1147.7,231.3 1148.2,230.2 1148.7,230.7 1149.1,229.3 1149.6,229.4 1150.1,229.2 1150.7,229.6 1151.2,231.0 1151.7,230.7 1152.2,231.1 1152.7,231.0 1153.3,232.0 1153.7,230.2 1154.2,229.6 1154.6,228.7 1155.2,230.2 1155.7,229.9 1156.2,229.9 1156.6,228.7 1157.1,228.3 1157.6,227.9 1158.1,229.1 1158.6,229.0 1159.1,228.0 1159.5,227.4 1160.1,227.7 1160.7,229.5 1161.2,229.5 1161.7,229.5 1162.1,228.8 1162.6,228.0 1163.1,228.1 1163.6,227.8 1164.1,228.2 1164.7,229.0 1165.2,229.1 1165.6,228.5 1166.0,227.2 1166.6,228.0 1167.1,228.8 1167.7,230.1 1168.2,230.1 1168.7,229.8 1169.2,229.2 1169.6,227.9 1170.1,228.2 1170.6,228.0 1171.2,230.1 1171.8,230.7 1172.2,230.0 1172.6,228.3 1173.1,228.0 1173.6,227.2 1174.1,227.0 1174.5,226.6 1175.1,228.3 1175.7,229.0 1176.2,229.5 1176.7,228.8 1177.1,228.7 1177.6,227.8 1178.1,227.2 1178.6,227.1 1179.1,226.8 1179.6,227.5 1180.0,225.7 1180.5,226.1 1181.0,225.6 1181.6,226.9 1182.1,226.8 1182.6,226.8 1183.1,227.7 1183.6,228.5 1184.2,224.8 1184.7,229.4 1185.1,228.8 1185.6,228.3 1186.1,226.9 1186.6,226.4 1187.1,227.2 1187.6,228.5 1188.1,228.5 1188.6,227.9 1189.1,228.1 1189.6,228.4 1190.2,229.4 1190.6,228.3 1191.1,228.9 1191.6,228.4 1192.1,229.0 1192.6,228.7 1193.1,228.7 1193.6,227.1 1194.1,227.3 1194.6,227.7 1195.2,229.4 1195.7,229.8 1196.1,228.4 1196.6,228.1 1197.1,227.6 1197.6,228.2 1198.1,229.0 1198.6,229.1 1199.1,229.0 1199.6,228.8 1200.1,229.0 1200.6,229.1 1201.1,229.0 1201.6,228.7 1202.1,229.3 1202.6,228.1 1203.1,228.7 1203.6,228.9 1204.1,229.7 1204.6,229.1 1205.1,228.9 1205.6,228.7 1206.1,228.0 1206.6,227.9 1207.1,227.6 1207.6,227.7 1208.1,226.8 1208.6,226.9 1209.1,227.8 1209.6,228.6 1210.1,228.8 1210.6,227.8 1211.1,227.4 1211.6,226.3 1212.1,227.5 1212.6,227.3 1212.7,228.2" stroke="#000" stroke-width="10.2"/>
<polyline points="149.2,582.8 149.3,582.3 149.2,581.8 149.2,581.3 149.3,580.8 149.3,580.3 149.3,579.8 149.3,579.3 149.4,578.8 149.4,578.3 149.4,577.8 149.4,577.3 149.4,576.8 149.4,576.3 149.5,575.8 149.5,575.3 149.5,574.8 149.5,574.3 149.5,573.8 149.6,573.3 149.6,572.8 149.7,572.3 149.8,571.8 149.7,571.3 149.6,570.8 149.6,570.3 149.7,569.8 149.8,569.3 149.9,568.8 150.1,568.3 150.0,567.8 150.0,567.3 150.0,566.8 150.2,566.3 150.2,565.8 150.1,565.3 150.0,564.8 150.0,564.3 150.1,563.8 150.1,563.3 150.1,562.8 150.1,562.3 150.1,561.8 150.1,561.3 150.2,560.8 150.2,560.3 150.2,559.8 150.3,559.3 150.3,558.8 150.4,558.3 150.3,557.8 150.4,557.3 150.3,556.8 150.4,556.3 150.4,555.8 150.5,555.3 150.4,554.8 150.4,554.3 150.4,553.8 150.4,553.3 150.5,552.8 150.5,552.3 150.5,551.8 150.5,551.3 150.5,550.8 150.6,550.3 150.7,549.8 150.7,549.3 150.7,548.8 150.7,548.3 150.8,547.8 150.8,547.3 150.8,546.8 150.8,546.3 150.9,545.8 150.9,545.3 150.8,544.8 150.8,544.3 150.8,543.8 150.9,543.3 151.0,542.8 150.9,542.3 150.8,541.8 150.9,541.3 151.0,540.8 151.0,540.3 151.0,539.8 151.0,539.3 151.1,538.8 151.1,538.3 151.1,537.8 151.1,537.3 151.1,536.8 151.1,536.3 151.0,535.8 151.1,535.3 151.0,534.8 151.1,534.3 151.1,533.8 151.1,533.3 151.3,532.8 151.3,532.3 151.4,531.8 151.4,531.3 151.4,530.8 151.4,530.3 151.3,529.8 151.3,529.3 151.4,528.8 151.5,528.3 151.4,527.8 151.4,527.3 151.5,526.8 151.5,526.3 151.5,525.8 151.5,525.3 151.5,524.8 151.5,524.3 151.5,523.8 151.6,523.3 151.6,522.8 151.4,522.3 151.4,521.8 151.6,521.3 151.7,520.9 151.6,520.3 151.5,519.8 151.6,519.3 151.6,518.8 151.6,518.3 151.7,517.8 151.7,517.3 151.7,516.9 151.7,516.3 151.7,515.8 151.7,515.3 151.7,514.8 151.7,514.3 151.7,513.8 151.7,513.3 151.8,512.8 151.9,512.4 151.9,511.9 151.9,511.4 151.9,510.9 151.9,510.4 151.9,509.9 152.0,509.4 152.0,508.9 152.0,508.4 152.0,507.9 152.0,507.4 151.9,506.8 151.9,506.3 152.1,505.9 152.1,505.4 152.2,504.9 152.0,504.3 152.1,503.9 152.1,503.4 152.2,502.9 152.2,502.4 152.2,501.9 152.3,501.4 152.4,500.9 152.5,500.4 152.5,499.9 152.5,499.4 152.4,498.9 152.4,498.4 152.5,497.9 152.5,497.4 152.6,496.9 152.5,496.4 152.6,495.9 152.6,495.4 152.6,494.9 152.6,494.4 152.8,493.9 152.9,493.4 152.9,492.9 152.8,492.4 152.9,491.9 153.0,491.4 153.0,490.9 152.9,490.4 152.8,489.9 152.9,489.4 152.9,488.9 152.9,488.4 153.1,487.9 153.2,487.4 153.1,486.9 153.1,486.4 153.0,485.9 153.3,485.4 153.3,484.9 153.5,484.4 153.4,483.9 153.5,483.4 153.6,482.9 153.6,482.4 153.6,481.9 153.5,481.4 153.6,480.9 153.5,480.4 153.7,479.9 153.6,479.4 153.7,478.9 153.7,478.4 153.7,477.9 153.7,477.4 153.7,476.9 153.8,476.4 153.7,475.9 153.8,475.4 153.8,474.9 153.8,474.4 153.9,473.9 153.9,473.4 154.0,472.9 154.0,472.4 154.0,471.9 154.0,471.4 154.0,470.9 153.9,470.4 154.0,469.9 154.0,469.4 154.1,468.9 154.1,468.4 154.2,467.9 154.3,467.4 154.2,466.9 154.2,466.4 154.3,465.9 154.4,465.4 154.4,464.9 154.4,464.4 154.5,463.9 154.5,463.4 154.5,462.9 154.6,462.4 154.6,461.9 154.7,461.4 154.7,460.9 154.8,460.4 154.7,459.9 154.8,459.4 154.9,458.9 154.9,458.4 155.0,457.9 155.0,457.4 155.0,456.9 155.1,456.4 155.1,455.9 155.1,455.4 155.1,454.9 155.2,454.4 155.3,454.0 155.2,453.4 155.3,453.0 155.2,452.4 155.3,451.9 155.3,451.4 155.3,450.9 155.4,450.5 155.5,450.0 155.6,449.5 155.6,449.0 155.6,448.5 155.6,448.0 155.6,447.5 155.8,447.0 155.8,446.5 156.0,446.0 155.9,445.5 156.0,445.0 156.0,444.5 156.0,444.0 156.1,443.5 156.2,443.0 156.2,442.5 156.2,442.0 156.2,441.5 156.3,441.0 156.3,440.5 156.4,440.0 156.3,439.5 156.3,439.0 156.3,438.5 156.5,438.0 156.5,437.5 156.6,437.0 156.6,436.5 156.6,436.0 156.5,435.5 156.6,435.0 156.7,434.5 156.8,434.0 156.7,433.5 156.5,433.0 156.5,432.5 156.5,432.0 156.6,431.5 156.6,431.0 156.8,430.5 156.9,430.0 157.0,429.5 157.0,429.0 157.0,428.5 157.1,428.0 157.0,427.5 157.0,427.0 156.9,426.5 157.0,426.0 157.0,425.5 157.0,425.0 156.9,424.5 157.2,424.0 157.3,423.5 157.4,423.0 157.2,422.5 157.2,422.0 157.2,421.5 157.2,421.0 157.2,420.5 157.2,420.0 157.3,419.5 157.6,419.0 157.8,418.5 157.9,418.0 157.9,417.5 157.6,417.0 157.7,416.5 157.7,416.0 158.0,415.6 158.2,415.1 158.0,414.5 158.1,414.0 157.8,413.5 158.2,413.1 158.1,412.5 158.3,412.1 158.3,411.6 158.7,411.1 158.8,410.6 158.8,410.1 158.7,409.6 158.9,409.1 159.0,408.6 158.9,408.1 159.0,407.6 159.1,407.1 159.5,406.6 159.4,406.1 159.5,405.6 159.2,405.1 159.4,404.6 159.2,404.1 159.5,403.6 159.6,403.1 159.6,402.6 159.5,402.1 159.4,401.6 159.7,401.2 159.9,400.7 159.7,400.2 159.6,399.6 159.7,399.1 160.3,398.7 160.0,398.2 159.8,397.7 159.7,397.1 159.8,396.6 159.7,396.1 159.6,395.6 160.1,395.2 160.2,394.7 160.3,394.2 160.1,393.7 160.6,393.2 160.5,392.7 160.7,392.2 160.3,391.7 160.3,391.2 160.1,390.6 160.6,390.2 160.8,389.7 160.7,389.2 160.7,388.7 160.8,388.2 161.0,387.7 160.9,387.2 160.8,386.7 160.6,386.1 160.8,385.7 161.0,385.2 161.3,384.7 161.5,384.3 161.3,383.7 161.5,383.2 161.4,382.7 162.2,382.3 162.1,381.8 162.4,381.4 162.3,380.8 162.8,380.4 163.0,380.0 162.7,379.4 162.2,378.8 162.2,378.3 162.3,377.8 162.7,377.4 162.4,376.8 162.9,376.4 163.3,375.9 163.4,375.5 163.5,375.0 163.4,374.4 163.6,374.0 163.5,373.4 163.6,372.9 163.9,372.5 164.0,372.0 164.1,371.5 164.3,371.1 164.3,370.5 164.5,370.1 164.6,369.6 165.1,369.2 165.1,368.7 165.6,368.3 165.4,367.7 165.7,367.3 165.3,366.7 165.6,366.2 165.8,365.7 165.8,365.2 165.7,364.7 165.7,364.2 165.9,363.7 166.5,363.4 167.1,363.0 167.5,362.6 167.5,362.1 167.3,361.5 167.2,360.9 167.4,360.5 168.1,360.1 168.4,359.7 168.3,359.2 167.9,358.5 167.8,358.0 167.8,357.5 167.8,357.0 168.1,356.5 168.7,356.2 168.9,355.7 169.2,355.3 169.3,354.8 169.5,354.3 169.6,353.8 169.5,353.3 169.6,352.8 169.4,352.2 169.4,351.7 169.6,351.2 169.7,350.7 169.9,350.3 170.2,349.8 170.2,349.3 170.4,348.8 170.2,348.2 170.6,347.8 170.9,347.4 171.5,347.1 171.7,346.6 171.9,346.2 171.9,345.7 172.1,345.2 172.3,344.7 172.8,344.4 173.2,344.0 173.8,343.8 173.9,343.2 174.2,342.8 174.2,342.3 174.4,341.9 174.3,341.3 174.1,340.6 174.4,340.2 175.0,339.9 175.5,339.7 175.8,339.3 175.8,338.7 176.1,338.3 175.9,337.6 176.3,337.3 176.5,336.8 176.9,336.5 177.5,336.3 177.6,335.7 177.9,335.3 177.6,334.5 178.3,334.4 178.6,334.0 179.3,333.8 179.5,333.3 179.9,333.1 179.9,332.4 180.0,331.9 180.5,331.7 180.8,331.3 181.1,330.9 181.1,330.2 181.7,330.2 182.2,330.0 182.7,329.8 182.8,329.1 183.2,328.9 183.6,328.5 183.9,328.1 184.3,327.9 185.0,327.8 185.5,327.6 185.6,327.1 185.9,326.6 186.2,326.2 186.3,325.5 186.3,324.7 186.8,324.5 187.4,324.4 188.0,324.4 188.5,324.2 188.8,323.8 189.1,323.5 189.7,323.4 190.4,323.5 190.8,323.3 191.0,322.6 191.3,322.3 191.5,321.6 192.0,321.4 192.3,320.9 192.9,321.0 193.3,320.7 193.6,320.2 193.9,319.8 194.5,319.7 194.9,319.4 195.3,319.1 195.5,318.5 195.9,318.2 196.5,318.2 197.2,318.4 197.9,318.6 198.3,318.3 198.6,317.8 199.0,317.5 199.3,317.1 199.9,317.1 200.4,317.0 201.1,317.1 201.4,316.6 201.7,316.2 202.1,315.8 202.8,316.1 203.2,315.9 203.5,315.4 203.9,314.9 204.5,315.1 205.2,315.4 205.7,315.4 206.0,314.9 206.3,314.2 206.6,313.5 207.0,313.2 207.6,313.4 208.2,313.7 208.8,314.0 209.3,313.9 209.8,313.9 210.2,313.5 210.7,313.3 211.2,313.2 211.6,312.9 211.9,312.3 212.3,311.7 212.8,311.7 213.2,311.4 213.7,311.3 214.1,311.0 214.7,311.1 215.0,310.6 215.5,310.3 216.0,310.3 216.6,310.6 217.1,310.5 217.5,310.1 217.8,309.4 218.3,309.3 219.0,309.8 219.6,309.8 220.0,309.5 220.5,309.3 220.9,309.1 221.3,308.7 221.5,307.9 221.9,307.6 222.6,308.0 223.0,307.8 223.6,307.7 223.7,306.8 224.3,306.9 224.8,306.8 225.4,306.9 225.9,306.8 226.3,306.5 226.8,306.4 227.4,306.4 227.8,306.2 228.2,305.8 228.4,305.1 228.7,304.6 229.3,304.5 229.7,304.4 230.5,304.9 231.1,304.9 231.5,304.8 231.7,304.0 232.2,303.7 232.5,303.2 233.0,303.0 233.4,302.7 233.9,302.7 234.4,302.5 234.8,302.0 235.3,302.2 235.9,302.1 236.4,302.1 236.9,302.0 237.3,301.8 237.9,301.8 238.2,301.3 238.6,300.9 238.9,300.2 239.3,299.9 239.8,299.9 240.5,300.3 241.2,300.5 241.6,300.4 241.9,299.8 242.3,299.5 242.8,299.3 243.3,299.3 243.7,298.9 244.2,298.7 244.8,298.8 245.1,298.4 245.6,298.2 245.7,297.4 246.4,297.6 246.8,297.2 247.2,296.9 247.6,296.7 248.3,296.9 248.9,297.0 249.5,296.9 249.7,296.3 249.9,295.7 250.3,295.3 250.7,295.0 251.2,294.9 251.7,294.8 252.2,294.7 252.8,294.7 253.2,294.5 253.6,294.1 254.2,294.2 254.5,293.7 255.1,293.8 255.4,293.2 256.1,293.6 256.5,293.3 257.2,293.6 257.4,293.0 257.8,292.7 258.3,292.4 258.6,291.8 259.0,291.5 259.5,291.3 260.2,291.8 260.8,292.0 261.2,291.5 261.6,291.3 262.0,290.8 262.3,290.4 262.6,289.8 263.1,289.6 263.6,289.6 264.2,289.6 264.4,288.9 264.8,288.4 265.3,288.3 266.0,288.9 266.6,289.0 267.1,288.8 267.4,288.1 268.0,288.5 268.5,288.3 269.3,289.0 269.7,288.8 270.3,289.0 270.7,288.4 271.1,288.0 271.5,287.7 272.0,287.7 272.5,287.6 273.1,287.9 273.7,287.9 274.3,288.2 274.7,287.9 275.2,287.8 275.6,287.2 276.0,287.0 276.4,286.5 276.8,286.3 277.4,286.5 278.0,286.7 278.6,287.0 279.0,286.6 279.4,286.2 279.8,285.6 280.1,285.2 280.6,285.0 281.1,284.9 281.5,284.6 282.0,284.4 282.3,283.7 282.8,283.6 283.1,283.1 283.7,283.0 284.0,282.6 284.6,282.6 285.1,282.6 285.7,282.8 286.1,282.4 286.4,281.8 286.8,281.3 287.1,280.8 287.7,281.0 288.3,281.2 288.9,281.3 289.3,280.9 289.7,280.5 290.1,280.3 290.6,280.0 291.1,280.0 291.6,279.8 292.1,279.9 292.5,279.6 293.0,279.5 293.5,279.3 294.0,279.1 294.5,279.1 295.0,279.2 295.7,279.6 296.0,279.1 296.4,278.5 296.8,278.3 297.4,278.5 298.0,278.6 298.3,278.0 298.7,277.6 299.1,277.3 299.7,277.4 300.1,276.8 300.6,277.0 301.0,276.5 301.6,276.7 302.2,277.0 302.8,277.2 303.3,277.3 303.7,276.8 304.2,276.6 304.5,276.0 305.1,276.3 305.7,276.4 306.3,276.9 306.7,276.4 307.2,276.2 307.6,275.8 308.2,276.2 308.8,276.6 309.3,276.3 309.6,275.6 309.9,274.8 310.5,275.0 311.0,275.1 311.6,275.1 312.0,274.7 312.3,274.0 312.7,273.6 313.2,273.7 313.9,274.1 314.4,274.3 314.8,273.7 315.3,273.6 315.8,273.8 316.3,273.6 316.7,273.3 317.1,272.7 317.7,272.8 318.1,272.7 318.6,272.6 319.0,272.2 319.5,272.1 320.0,271.8 320.5,271.8 321.0,271.7 321.5,271.8 322.0,271.6 322.4,271.4 322.9,271.3 323.4,271.2 323.9,271.0 324.4,270.8 324.9,270.8 325.4,270.7 325.8,270.3 326.2,269.8 326.6,269.7 327.2,269.8 327.8,270.0 328.1,269.4 328.5,269.0 328.9,268.5 329.4,268.6 329.9,268.4 330.4,268.2 330.9,268.4 331.4,268.2 332.0,268.5 332.5,268.2 333.0,268.4 333.5,268.4 333.9,267.8 334.3,267.4 334.6,266.6 335.1,266.7 335.7,266.8 336.3,267.3 337.0,267.5 337.4,267.2 337.8,267.0 338.2,266.6 338.8,266.8 339.4,267.0 339.9,266.8 340.5,267.2 340.9,266.7 341.4,266.6 341.7,265.8 342.2,265.8 342.7,265.9 343.1,265.5 343.6,265.4 344.1,265.2 344.7,265.5 345.1,265.3 345.5,264.8 345.8,264.1 346.2,263.5 346.7,263.6 347.3,263.6 347.8,263.7 348.2,263.3 348.7,263.2 349.2,263.2 349.7,262.9 350.1,262.6 350.5,262.2 351.0,262.3 351.5,262.1 352.1,262.2 352.6,262.4 353.2,262.4 353.5,261.8 354.0,261.9 354.5,261.6 355.0,261.6 355.3,260.9 355.8,260.6 356.4,261.1 356.9,261.1 357.5,261.1 357.7,260.1 358.2,260.1 358.6,259.8 359.2,259.9 359.7,259.7 360.2,259.7 360.8,259.9 361.3,259.9 361.7,259.6 362.1,259.2 362.4,258.5 363.0,258.7 363.5,258.7 364.0,258.6 364.6,258.8 365.0,258.4 365.5,258.3 365.9,257.8 366.4,257.8 366.9,257.6 367.4,257.5 367.7,256.9 368.3,257.3 368.8,257.2 369.3,257.2 369.8,257.0 370.2,256.6 370.7,256.4 371.2,256.4 371.8,256.5 372.3,256.7 372.7,256.2 373.2,256.0 373.5,255.5 374.0,255.3 374.5,255.2 374.9,254.9 375.3,254.5 375.7,254.1 376.3,254.2 376.8,254.2 377.4,254.5 377.8,253.9 378.3,253.9 378.7,253.5 379.2,253.4 379.6,253.1 380.1,253.1 380.7,253.4 381.3,253.4 381.7,253.3 382.3,253.2 382.7,252.9 383.0,252.2 383.4,251.8 383.9,251.7 384.5,252.0 385.1,252.1 385.6,252.1 386.1,252.1 386.7,252.3 387.0,251.8 387.6,251.9 387.9,251.3 388.5,251.3 388.9,251.1 389.4,251.0 390.0,251.2 390.4,250.7 390.9,250.8 391.3,250.3 391.9,250.4 392.3,250.2 392.8,250.1 393.3,250.1 393.8,249.8 394.3,249.7 394.7,249.6 395.4,249.9 395.9,250.1 396.4,249.9 396.9,250.0 397.3,249.5 397.7,249.2 398.0,248.4 398.6,248.7 399.2,248.8 399.8,249.1 400.3,249.0 400.7,248.8 401.1,248.3 401.5,247.7 402.1,248.1 402.7,248.3 403.3,248.5 403.6,247.9 404.0,247.5 404.4,247.2 404.9,247.0 405.3,246.4 405.8,246.4 406.3,246.2 406.9,246.6 407.4,246.6 407.9,246.7 408.4,246.5 408.9,246.5 409.2,245.6 409.6,245.3 410.2,245.4 410.7,245.5 411.3,245.6 411.7,245.3 412.2,245.2 412.8,245.3 413.1,244.8 413.6,244.5 414.0,244.0 414.4,243.9 415.0,244.2 415.6,244.3 416.2,244.6 416.6,244.3 417.3,244.8 417.7,244.6 418.3,244.7 418.7,244.2 419.1,244.0 419.6,243.8 420.0,243.6 420.6,243.7 421.1,243.8 421.7,243.8 422.1,243.4 422.5,242.9 423.0,243.0 423.5,242.9 424.0,243.0 424.4,242.6 425.0,242.8 425.4,242.2 425.8,241.8 426.2,241.3 426.7,241.4 427.1,240.8 427.6,240.8 427.9,240.1 428.6,240.5 429.1,240.5 429.7,241.1 430.1,240.7 430.6,240.6 431.1,240.2 431.5,240.1 431.9,239.6 432.4,239.4 433.0,239.6 433.5,239.8 434.0,239.5 434.4,239.2 434.9,239.1 435.5,239.5 436.0,239.6 436.4,239.0 436.9,239.0 437.3,238.5 437.9,238.7 438.4,238.7 439.1,239.3 439.6,239.3 440.0,239.1 440.4,238.4 440.8,238.1 441.3,238.1 441.9,238.1 442.4,238.0 442.7,237.4 443.2,237.3 443.7,237.3 444.3,237.3 444.7,237.1 445.2,237.1 445.8,237.2 446.3,237.1 446.6,236.4 447.0,236.1 447.5,235.9 448.1,236.3 448.6,236.2 449.2,236.4 449.5,235.8 450.0,235.7 450.5,235.4 451.0,235.4 451.4,235.1 451.8,234.8 452.4,234.7 452.8,234.4 453.2,234.2 453.7,234.0 454.3,234.1 454.8,234.2 455.2,233.9 455.7,233.8 456.2,233.5 456.7,233.7 457.2,233.6 457.8,233.7 458.2,233.3 458.7,233.5 459.1,232.9 459.6,232.9 460.1,232.6 460.7,233.1 461.2,233.2 461.7,233.0 462.1,232.7 462.6,232.4 463.1,232.2 463.5,231.9 464.0,231.9 464.6,232.2 465.0,231.9 465.5,231.9 466.0,231.7 466.5,231.8 467.0,231.6 467.4,231.2 468.0,231.2 468.5,231.2 469.0,231.3 469.4,231.0 469.9,230.9 470.4,230.5 470.9,230.5 471.4,230.5 471.9,230.7 472.5,230.8 472.9,230.6 473.5,230.8 473.9,230.5 474.3,230.0 474.8,229.7 475.3,229.6 475.8,229.7 476.3,229.6 476.8,229.6 477.4,229.8 477.8,229.4 478.3,229.3 478.8,229.1 479.3,229.4 479.8,229.1 480.2,228.9 480.7,228.5 481.1,228.1 481.5,227.6 482.1,227.8 482.6,227.7 483.1,228.0 483.5,227.2 484.0,227.3 484.4,226.6 484.9,226.5 485.4,226.7 485.9,226.7 486.5,226.9 487.0,226.7 487.6,227.4 488.1,227.1 488.6,227.2 489.0,226.9 489.5,226.9 489.9,226.3 490.5,226.3 490.9,226.1 491.5,226.3 491.9,226.1 492.5,226.5 493.0,226.4 493.5,226.1 493.9,225.7 494.5,226.1 495.1,226.5 495.5,226.1 496.0,225.9 496.2,224.7 496.8,225.0 497.2,224.5 497.9,225.5 498.4,225.4 498.9,225.4 499.3,224.8 499.8,224.6 500.3,224.7 500.8,224.7 501.4,225.0 502.0,225.2 502.5,225.3 502.9,224.9 503.3,224.2 503.7,223.9 504.3,224.3 504.9,224.6 505.4,224.6 505.9,224.3 506.3,224.1 506.8,223.9 507.3,223.9 507.9,224.1 508.4,224.1 508.9,224.0 509.3,223.8 509.8,223.7 510.3,223.4 510.8,223.5 511.3,223.5 511.7,223.1 512.2,222.8 512.7,222.7 513.3,223.2 513.7,222.8 514.2,222.6 514.6,221.9 515.1,222.2 515.6,222.0 516.1,222.2 516.6,221.9 517.0,221.5 517.4,220.9 517.9,220.7 518.4,220.7 519.0,221.2 519.5,221.3 519.9,220.8 520.3,220.3 520.7,219.5 521.1,219.3 521.6,219.3 522.2,219.6 522.7,219.6 523.3,219.7 523.7,219.4 524.2,219.3 524.7,219.0 525.2,219.2 525.8,219.4 526.2,219.2 526.7,219.1 527.2,219.1 527.7,219.0 528.1,218.6 528.6,218.2 529.1,218.3 529.7,218.5 530.3,218.8 530.8,218.9 531.3,218.8 531.8,218.7 532.3,218.8 532.8,218.9 533.4,219.1 533.9,218.8 534.3,218.7 534.7,218.2 535.1,217.6 535.5,217.1 536.0,217.1 536.6,217.2 537.1,217.3 537.6,217.2 538.0,216.9 538.6,217.0 539.0,216.8 539.5,216.7 540.0,216.4 540.4,216.2 541.0,216.6 541.5,216.2 541.9,216.1 542.4,215.7 543.0,216.1 543.4,215.8 543.9,215.8 544.3,215.3 544.8,214.9 545.2,214.5 545.6,214.3 546.1,213.9 546.6,213.8 547.1,214.1 547.8,214.6 548.2,214.1 548.6,213.8 549.0,213.3 549.6,213.7 550.1,213.7 550.7,213.9 551.0,213.0 551.5,212.9 552.0,213.0 552.6,213.5 553.1,213.4 553.6,213.0 554.0,212.6 554.5,212.5 555.0,212.5 555.5,212.5 556.0,212.3 556.5,212.5 556.9,212.1 557.4,212.1 557.8,211.5 558.4,211.9 559.0,212.1 559.6,212.4 560.0,212.3 560.4,211.7 561.0,211.8 561.4,211.7 562.0,211.9 562.4,211.4 562.9,211.1 563.4,211.2 563.9,211.2 564.4,211.1 564.8,210.4 565.3,210.3 565.8,210.4 566.4,210.9 566.9,210.8 567.4,210.7 567.9,210.8 568.4,210.6 568.9,210.7 569.3,210.0 569.7,209.7 570.1,209.1 570.6,208.8 571.1,208.8 571.7,209.1 572.3,209.8 572.8,209.9 573.3,209.9 573.8,209.6 574.2,209.4 574.7,209.0 575.2,208.8 575.7,209.0 576.1,208.6 576.7,208.8 577.1,208.6 577.7,209.0 578.1,208.5 578.6,208.5 579.1,208.3 579.7,208.8 580.2,208.6 580.7,208.9 581.2,208.8 581.8,208.9 582.2,208.8 582.7,208.6 583.3,209.0 583.8,209.1 584.3,209.2 584.8,208.8 585.2,208.1 585.7,208.0 586.2,208.1 586.7,207.9 587.1,207.6 587.6,207.6 588.2,208.2 588.6,207.7 589.1,207.6 589.6,207.0 590.2,207.6 590.7,207.6 591.2,207.6 591.6,207.1 592.0,206.6 592.5,206.1 593.0,206.5 593.6,206.7 594.1,206.9 594.6,206.6 595.0,206.3 595.5,206.4 596.1,206.7 596.7,207.1 597.1,206.6 597.6,206.6 598.0,206.1 598.5,205.9 598.9,205.3 599.4,205.1 599.9,205.4 600.4,205.4 600.9,205.1 601.4,204.9 602.0,205.4 602.5,205.4 603.0,205.4 603.4,204.9 604.0,205.4 604.4,204.8 604.9,204.8 605.3,203.9 605.8,204.0 606.2,203.6 606.9,204.5 607.4,204.3 607.8,203.8 608.2,203.3 608.7,203.2 609.3,203.5 609.7,203.2 610.2,203.3 610.7,203.3 611.2,203.3 611.8,203.4 612.3,203.5 612.8,203.4 613.2,203.1 613.7,202.6 614.2,202.8 614.7,202.9 615.3,203.2 615.8,203.2 616.3,203.5 616.8,203.3 617.3,203.3 617.7,202.7 618.2,202.3 618.6,202.0 619.1,202.0 619.7,202.3 620.1,202.0 620.7,202.2 621.1,201.4 621.6,201.4 622.1,201.3 622.6,201.7 623.1,201.5 623.6,201.5 624.1,201.7 624.7,202.1 625.2,201.8 625.6,201.4 626.1,200.9 626.6,201.1 627.2,201.5 627.7,201.5 628.1,200.9 628.5,200.6 629.1,200.7 629.5,200.4 630.0,200.3 630.6,200.5 631.2,201.2 631.7,201.2 632.1,200.7 632.6,200.7 633.0,200.3 633.5,199.9 634.0,199.7 634.5,199.7 635.0,199.8 635.4,199.2 635.9,199.5 636.5,199.5 637.0,199.8 637.5,199.6 638.0,199.7 638.5,199.3 638.9,199.0 639.3,198.4 639.8,198.4 640.3,198.3 640.8,198.4 641.3,198.3 641.8,198.0 642.2,197.6 642.8,197.9 643.3,198.1 643.9,198.2 644.3,197.9 644.8,197.8 645.3,197.9 645.8,197.9 646.3,197.6 646.7,197.2 647.1,196.7 647.6,196.5 648.2,196.8 648.7,196.7 649.1,196.4 649.5,195.8 650.0,195.7 650.6,196.1 651.1,196.0 651.6,196.2 652.1,196.1 652.7,196.4 653.2,196.6 653.8,197.1 654.3,197.0 654.7,196.2 655.0,195.5 655.5,195.2 656.1,195.8 656.7,196.0 657.2,196.1 657.6,195.6 658.1,195.5 658.6,195.4 659.1,195.3 659.6,195.3 660.1,195.4 660.6,195.4 661.1,195.5 661.7,195.6 662.2,195.6 662.6,195.4 663.1,195.0 663.6,194.8 664.1,194.8 664.6,194.7 665.1,194.7 665.5,194.5 666.0,194.2 666.5,194.0 667.0,194.1 667.5,194.1 668.0,194.1 668.5,194.3 669.1,194.6 669.6,194.5 670.0,194.2 670.5,193.7 671.0,194.1 671.5,193.7 672.0,193.8 672.5,193.7 673.0,193.5 673.5,193.7 673.9,193.1 674.5,193.3 674.9,192.9 675.4,193.0 675.9,192.9 676.4,192.9 676.9,192.6 677.4,192.7 677.9,192.9 678.5,193.3 679.0,193.4 679.5,192.9 680.0,192.8 680.5,192.8 681.0,192.9 681.5,192.8 682.0,192.7 682.5,192.7 682.9,192.1 683.3,191.6 683.9,192.2 684.4,192.4 684.9,192.1 685.3,191.4 685.7,191.0 686.3,191.1 686.8,191.1 687.2,190.6 687.7,190.7 688.2,190.9 688.8,191.3 689.3,191.0 689.8,190.9 690.2,190.5 690.7,190.3 691.1,189.7 691.6,189.8 692.2,190.1 692.7,190.3 693.2,190.4 693.7,190.4 694.3,190.5 694.7,190.2 695.2,189.9 695.7,190.0 696.2,190.0 696.7,189.9 697.1,189.5 697.7,189.7 698.1,189.4 698.6,189.2 699.2,189.7 699.8,190.0 700.3,190.1 700.7,189.4 701.2,189.3 701.7,189.2 702.2,189.3 702.6,188.9 703.1,188.7 703.6,188.4 704.0,188.3 704.5,187.7 704.9,187.6 705.4,187.6 706.0,188.1 706.5,187.7 707.0,187.6 707.4,187.4 707.9,187.2 708.3,186.5 708.8,186.5 709.3,186.6 709.9,187.2 710.5,187.4 711.0,187.4 711.4,187.0 711.9,186.5 712.4,186.7 712.9,186.6 713.4,186.8 713.9,186.8 714.5,187.1 714.9,186.7 715.4,186.6 715.9,186.6 716.4,186.4 716.9,186.5 717.4,186.2 717.9,186.5 718.3,185.8 718.8,185.9 719.4,186.0 719.8,185.8 720.3,185.3 720.7,184.9 721.2,184.7 721.7,184.8 722.2,184.8 722.7,184.9 723.3,185.3 723.8,185.0 724.3,185.0 724.7,184.5 725.3,184.9 725.8,185.3 726.3,185.4 726.8,185.3 727.2,184.6 727.7,184.1 728.1,183.4 728.5,183.0 729.0,183.1 729.6,183.2 730.1,183.7 730.7,184.0 731.2,184.0 731.6,183.6 732.1,183.2 732.6,183.1 733.1,183.1 733.6,183.2 734.1,183.2 734.6,183.1 735.0,182.6 735.5,182.2 736.0,182.0 736.6,182.7 737.1,182.8 737.6,183.1 738.1,182.9 738.6,183.1 739.1,182.8 739.5,182.4 740.0,182.0 740.5,182.1 741.1,182.4 741.6,182.7 742.1,182.7 742.6,182.6 743.2,182.9 743.6,182.5 744.1,182.4 744.6,182.1 745.1,182.4 745.5,181.9 746.0,181.6 746.5,181.2 747.0,181.5 747.5,181.8 748.1,181.8 748.6,181.9 749.0,181.3 749.5,181.0 749.9,180.8 750.5,181.2 751.0,181.2 751.5,180.9 751.9,180.4 752.4,180.5 753.0,181.2 753.6,182.0 754.1,181.9 754.6,181.7 755.1,181.3 755.6,181.6 756.1,181.3 756.5,180.6 756.9,180.1 757.3,179.6 757.9,179.8 758.4,179.9 758.9,179.8 759.4,179.6 759.8,179.3 760.4,179.8 760.9,180.0 761.4,180.0 761.9,179.4 762.3,178.9 762.8,178.9 763.3,178.8 763.8,178.7 764.3,178.7 764.8,178.7 765.3,178.4 765.7,177.9 766.2,177.9 766.7,178.1 767.3,178.4 767.8,178.5 768.3,178.3 768.7,178.0 769.2,177.7 769.7,177.6 770.2,177.8 770.7,177.8 771.3,178.2 771.8,178.1 772.3,177.9 772.8,178.2 773.3,178.2 773.8,178.3 774.3,177.8 774.8,177.9 775.3,177.8 775.8,178.0 776.3,177.9 776.8,178.0 777.3,178.1 777.8,178.4 778.4,178.5 778.8,178.2 779.3,178.1 779.8,177.9 780.3,177.9 780.8,177.4 781.3,177.5 781.8,177.4 782.3,178.0 782.8,177.9 783.3,177.6 783.7,176.8 784.2,176.9 784.7,176.8 785.3,177.2 785.7,176.8 786.3,177.3 786.8,177.1 787.3,177.5 787.8,177.2 788.3,177.0 788.7,176.6 789.2,176.5 789.7,176.6 790.2,176.4 790.7,176.2 791.2,176.7 791.8,176.8 792.2,176.8 792.7,176.1 793.2,176.3 793.7,175.9 794.2,176.1 794.7,175.8 795.2,175.7 795.6,175.4 796.1,175.1 796.6,174.8 797.0,174.4 797.5,174.5 798.0,174.4 798.6,174.7 799.1,174.8 799.6,175.0 800.1,174.8 800.6,174.7 801.1,174.6 801.6,174.9 802.1,174.7 802.6,174.7 803.1,174.3 803.6,174.4 804.1,174.4 804.6,174.3 805.1,174.5 805.6,174.5 806.1,174.8 806.6,175.0 807.2,175.4 807.6,174.8 808.1,174.5 808.6,174.3 809.1,174.7 809.6,174.1 810.1,174.1 810.5,173.7 811.1,174.2 811.6,174.2 812.2,174.9 812.6,174.5 813.1,173.9 813.5,173.5 814.1,173.7 814.6,173.9 815.1,173.9 815.6,173.9 816.1,173.6 816.5,173.2 817.0,173.0 817.5,173.2 818.0,173.3 818.5,173.2 819.0,173.1 819.5,173.2 820.0,173.3 820.5,173.2 821.0,173.0 821.5,172.9 822.0,172.5 822.5,172.6 823.0,172.3 823.5,172.7 824.0,172.3 824.5,172.6 825.0,172.6 825.5,172.5 826.0,172.3 826.4,172.1 827.0,172.7 827.5,172.7 828.0,172.6 828.5,172.2 829.0,172.1 829.5,172.5 830.0,172.5 830.5,172.6 831.0,172.1 831.5,172.2 832.0,172.5 832.6,172.8 833.0,172.6 833.5,172.1 834.0,171.7 834.5,171.7 834.9,171.4 835.4,171.5 835.9,171.4 836.4,171.3 836.9,171.4 837.4,171.1 837.9,171.1 838.4,170.7 838.9,171.3 839.5,171.7 840.0,172.1 840.5,172.0 841.0,171.7 841.5,171.5 841.9,171.0 842.4,170.6 842.9,170.5 843.4,170.4 843.9,170.4 844.4,170.5 844.9,170.5 845.4,170.2 845.8,169.9 846.3,169.7 846.8,169.9 847.3,169.6 847.8,169.9 848.4,170.3 848.9,170.3 849.4,170.1 849.8,169.7 850.3,169.7 850.8,169.5 851.3,169.6 851.9,170.0 852.4,170.3 852.9,169.8 853.3,169.4 853.8,169.2 854.3,169.5 854.9,169.7 855.3,169.6 855.8,169.4 856.3,169.3 856.8,169.4 857.3,168.9 857.8,169.3 858.3,169.1 858.8,169.3 859.3,169.0 859.8,168.7 860.3,169.0 860.8,168.7 861.3,169.0 861.8,169.0 862.4,169.2 862.8,168.9 863.3,168.6 863.7,168.2 864.2,167.9 864.7,168.0 865.2,168.0 865.7,167.9 866.2,168.0 866.8,168.2 867.3,168.2 867.8,168.0 868.3,168.0 868.8,168.4 869.3,168.1 869.7,167.5 870.2,167.3 870.7,167.4 871.2,167.6 871.7,167.6 872.3,167.8 872.8,167.6 873.3,167.6 873.8,168.0 874.3,168.0 874.9,168.1 875.3,167.4 875.8,167.4 876.2,166.9 876.7,166.8 877.2,166.6 877.7,166.9 878.2,167.0 878.7,167.0 879.2,166.8 879.6,166.1 880.1,165.9 880.6,166.0 881.1,166.1 881.6,165.8 882.0,165.4 882.5,165.3 883.0,165.3 883.5,165.0 884.0,165.4 884.5,165.2 885.0,165.1 885.4,164.5 886.0,164.8 886.5,164.8 887.0,165.1 887.5,164.8 888.0,164.8 888.4,164.2 888.9,164.4 889.5,164.5 890.0,164.8 890.5,164.5 891.0,164.3 891.4,163.9 891.9,164.1 892.5,164.2 893.0,164.3 893.4,164.0 893.9,163.9 894.4,163.9 895.0,164.4 895.5,164.5 896.0,164.4 896.4,163.8 896.9,163.6 897.4,163.5 898.0,163.8 898.5,163.9 899.0,164.2 899.5,164.2 900.0,164.0 900.5,163.9 901.0,163.5 901.4,163.5 901.9,163.4 902.5,163.5 902.9,163.2 903.3,162.6 903.8,162.1 904.3,162.6 904.8,162.3 905.3,162.5 905.8,162.3 906.4,162.7 906.9,162.9 907.3,162.2 907.8,162.0 908.3,162.3 908.8,162.3 909.3,162.1 909.7,161.3 910.2,161.2 910.7,161.1 911.3,161.4 911.7,161.2 912.2,160.7 912.6,160.4 913.2,160.6 913.7,161.2 914.3,161.3 914.7,161.1 915.2,160.9 915.7,160.9 916.3,161.0 916.7,160.8 917.2,160.6 917.7,160.4 918.1,160.1 918.7,160.1 919.1,159.8 919.7,160.1 920.1,159.6 920.6,159.8 921.1,159.7 921.6,159.3 922.1,159.4 922.6,159.4 923.1,159.7 923.6,159.7 924.2,159.9 924.7,160.1 925.2,160.2 925.7,160.0 926.1,159.4 926.6,159.1 927.1,159.0 927.6,159.3 928.1,159.2 928.6,159.0 929.1,159.2 929.7,159.6 930.2,159.5 930.7,159.5 931.1,159.3 931.7,159.4 932.2,159.5 932.7,159.5 933.2,159.4 933.7,159.3 934.1,158.8 934.6,158.8 935.1,158.6 935.6,158.6 936.1,158.7 936.6,158.7 937.1,158.8 937.6,158.6 938.1,158.6 938.6,158.8 939.1,158.6 939.6,158.4 940.1,158.3 940.6,158.3 941.1,158.0 941.5,157.5 942.0,157.4 942.5,157.3 943.1,157.8 943.6,157.8 944.1,158.0 944.5,157.6 945.1,157.9 945.6,157.7 946.0,157.4 946.6,157.6 947.1,157.6 947.6,157.9 948.1,157.6 948.6,157.9 949.1,158.0 949.6,158.1 950.1,158.0 950.6,157.8 951.1,157.6 951.5,157.2 952.0,156.7 952.5,156.5 953.0,156.4 953.6,157.3 954.1,157.6 954.6,158.0 955.1,157.2 955.6,157.2 956.0,156.6 956.5,156.3 956.9,155.7 957.4,155.7 957.9,156.0 958.5,156.1 959.0,156.7 959.6,156.8 960.1,157.0 960.5,156.7 961.0,156.4 961.5,155.9 961.9,155.5 962.4,155.3 962.9,155.3 963.5,155.8 963.9,155.5 964.4,155.3 964.9,155.1 965.4,155.2 965.9,155.5 966.4,155.3 966.9,155.3 967.4,154.8 967.9,154.8 968.4,154.8 968.9,154.8 969.4,154.6 969.9,154.7 970.4,154.8 970.9,154.5 971.3,154.3 971.8,154.3 972.4,154.8 972.9,154.9 973.4,154.8 973.9,154.3 974.3,153.9 974.8,154.0 975.3,154.0 975.9,154.3 976.4,154.4 976.9,154.2 977.4,154.1 977.8,153.7 978.4,154.3 978.9,154.3 979.4,154.2 979.8,153.8 980.3,153.4 980.8,153.4 981.3,153.3 981.8,153.5 982.3,153.6 982.8,153.3 983.3,152.9 983.7,152.7 984.2,152.7 984.8,152.9 985.3,153.4 985.9,153.8 986.4,153.9 986.8,153.1 987.2,152.5 987.8,152.6 988.3,153.1 988.8,153.3 989.3,153.1 989.8,152.9 990.3,153.1 990.8,152.6 991.3,152.5 991.7,152.3 992.3,152.8 992.8,152.7 993.3,152.3 993.7,151.9 994.1,151.3 994.7,151.5 995.2,151.5 995.7,151.8 996.2,151.5 996.6,151.1 997.2,151.2 997.7,151.4 998.2,151.9 998.7,151.6 999.2,151.1 999.6,150.9 1000.1,151.0 1000.7,151.1 1001.1,150.5 1001.6,150.3 1002.1,150.3 1002.6,150.7 1003.0,149.9 1003.5,150.0 1004.0,149.3 1004.5,149.6 1005.0,149.6 1005.5,149.8 1006.0,149.5 1006.5,149.1 1007.1,149.8 1007.6,150.5 1008.1,150.4 1008.6,150.1 1009.1,149.9 1009.6,150.0 1010.1,149.8 1010.5,149.4 1011.0,149.5 1011.6,149.6 1012.1,150.2 1012.6,150.2 1013.1,149.4 1013.5,148.5 1013.9,148.4 1014.5,148.9 1015.0,148.7 1015.5,148.6 1016.0,148.5 1016.5,148.8 1017.0,148.8 1017.5,149.1 1018.1,149.4 1018.6,149.5 1019.1,149.0 1019.5,148.5 1020.0,148.2 1020.5,148.4 1021.0,148.4 1021.5,148.4 1022.0,148.2 1022.5,148.5 1023.0,148.7 1023.6,149.0 1024.1,148.8 1024.6,148.7 1025.0,148.3 1025.5,148.0 1026.0,147.8 1026.5,148.1 1027.0,148.2 1027.5,148.0 1028.0,147.9 1028.5,147.9 1029.0,148.1 1029.5,147.9 1030.0,147.7 1030.5,147.5 1031.0,147.5 1031.4,147.4 1032.0,147.5 1032.5,147.9 1033.0,148.1 1033.5,148.0 1034.0,147.4 1034.4,146.9 1034.9,146.7 1035.4,146.9 1035.9,146.3 1036.4,146.4 1036.8,145.7 1037.4,146.2 1037.9,146.4 1038.4,146.6 1038.8,146.1 1039.3,146.0 1039.9,146.5 1040.5,147.1 1041.0,147.0 1041.4,146.5 1041.9,146.6 1042.4,146.6 1043.0,146.9 1043.4,146.6 1043.9,146.4 1044.4,146.5 1044.9,146.1 1045.4,146.1 1045.9,145.9 1046.4,146.0 1046.9,145.9 1047.4,145.8 1047.9,145.9 1048.3,145.4 1048.8,145.3 1049.3,144.8 1049.8,144.9 1050.2,144.3 1050.7,144.1 1051.2,144.2 1051.8,144.5 1052.3,144.8 1052.8,144.8 1053.3,144.9 1053.8,144.7 1054.3,144.5 1054.8,144.4 1055.3,144.4 1055.8,144.3 1056.3,144.2 1056.8,144.1 1057.3,144.0 1057.8,144.1 1058.3,144.6 1058.8,144.5 1059.3,144.5 1059.7,143.7 1060.3,144.1 1060.8,143.9 1061.3,144.2 1061.8,144.0 1062.3,144.2 1062.8,143.8 1063.2,143.6 1063.7,143.3 1064.2,143.7 1064.7,143.6 1065.3,143.7 1065.7,143.6 1066.2,143.5 1066.7,143.6 1067.2,143.1 1067.7,143.0 1068.2,142.6 1068.7,142.8 1069.2,142.8 1069.7,143.0 1070.2,142.9 1070.7,142.9 1071.2,142.5 1071.7,142.6 1072.2,142.7 1072.7,142.9 1073.2,142.8 1073.7,142.5 1074.2,143.0 1074.7,143.1 1075.3,143.3 1075.7,142.8 1076.2,142.6 1076.7,142.3 1077.2,142.6 1077.7,142.3 1078.2,142.5 1078.7,142.1 1079.2,142.4 1079.6,142.0 1080.1,141.7 1080.6,141.9 1081.2,142.0 1081.7,142.4 1082.2,142.3 1082.7,142.6 1083.2,142.5 1083.7,142.1 1084.2,141.9 1084.7,141.9 1085.2,141.8 1085.7,142.3 1086.2,142.0 1086.7,142.2 1087.1,141.6 1087.7,141.8 1088.1,141.6 1088.7,141.8 1089.1,141.4 1089.7,141.7 1090.1,141.4 1090.7,141.7 1091.1,141.4 1091.7,141.8 1092.2,141.5 1092.7,141.6 1093.2,141.6 1093.7,141.9 1094.2,141.7 1094.7,141.4 1095.2,141.4 1095.6,141.1 1096.2,141.2 1096.6,141.1 1097.1,140.9 1097.5,140.2 1098.0,140.0 1098.5,140.2 1099.1,140.9 1099.6,140.9 1100.1,140.7 1100.6,140.1 1101.0,140.0 1101.5,139.9 1102.0,139.9 1102.5,139.8 1103.1,140.1 1103.6,140.3 1104.1,140.0 1104.5,139.8 1105.0,139.5 1105.5,139.3 1106.0,139.3 1106.5,139.3 1107.1,139.8 1107.6,139.8 1108.1,139.7 1108.5,139.4 1109.1,139.6 1109.6,139.7 1110.0,139.4 1110.5,138.9 1111.0,138.8 1111.5,138.7 1112.0,138.6 1112.5,138.8 1113.0,139.2 1113.6,139.4 1114.1,139.4 1114.6,139.3 1115.1,139.7 1115.6,139.5 1116.0,139.2 1116.5,138.9 1117.0,138.9 1117.5,139.0 1118.0,139.2 1118.5,139.0 1119.0,139.0 1119.5,138.5 1120.0,138.5 1120.5,138.3 1121.0,138.3 1121.5,138.2 1122.0,138.2 1122.5,138.4 1123.0,138.6 1123.5,138.3 1124.0,138.4 1124.5,137.7 1125.0,138.0 1125.5,137.9 1126.0,138.2 1126.5,138.1 1127.0,137.7 1127.5,138.0 1127.9,137.4 1128.4,137.3 1128.9,136.7 1129.5,137.4 1130.0,137.8 1130.5,138.5 1131.0,138.6 1131.5,138.4 1132.0,138.0 1132.5,138.2 1133.0,138.3 1133.5,138.3 1134.0,137.8 1134.5,137.5 1135.0,137.9 1135.5,138.5 1136.1,139.0 1136.5,138.6 1137.0,138.2 1137.5,138.1 1138.0,138.3 1138.5,138.5 1139.0,137.9 1139.5,137.7 1140.0,137.5 1140.5,137.7 1141.0,137.6 1141.5,137.2 1142.0,137.5 1142.5,137.6 1143.0,137.6 1143.5,137.4 1144.0,137.4 1144.5,137.8 1145.0,137.4 1145.5,137.2 1146.0,136.9 1146.5,136.9 1147.0,137.2 1147.5,137.5 1148.0,137.5 1148.5,137.5 1149.0,137.4 1149.5,137.4 1150.0,137.4 1150.5,137.3 1151.0,137.0 1151.4,136.6 1151.9,136.2 1152.4,135.8 1152.9,136.0 1153.4,136.2 1153.9,136.3 1154.4,136.3 1154.9,136.4 1155.4,136.4 1155.9,136.2 1156.4,135.9 1156.9,135.9 1157.4,136.0 1157.9,136.2 1158.4,136.0 1158.9,135.7 1159.4,135.7 1159.9,135.7 1160.4,135.4 1160.9,135.5 1161.4,135.4 1161.9,135.2 1162.3,134.8 1162.9,135.3 1163.4,135.7 1163.9,135.9 1164.3,134.9 1164.8,134.6 1165.3,134.6 1165.9,135.0 1166.4,135.3 1166.9,135.2 1167.4,135.3 1167.9,135.3 1168.4,135.1 1168.9,134.9 1169.3,134.5 1169.8,134.6 1170.3,134.3 1170.8,134.5 1171.3,134.5 1171.9,134.8 1172.4,134.6 1172.8,134.5 1173.4,134.8 1173.9,134.7 1174.4,134.9 1174.9,134.5 1175.3,134.4 1175.8,134.4 1176.4,134.4 1176.8,134.3 1177.3,134.2 1177.9,134.7 1178.4,135.0 1179.0,135.2 1179.4,135.0 1179.9,135.0 1180.5,135.1 1181.0,135.1 1181.4,134.9 1181.9,134.7 1182.4,134.2 1182.8,134.0 1183.3,133.9 1183.9,134.4 1184.4,134.3 1184.9,134.3 1185.4,133.9 1185.9,133.8 1186.4,133.8 1186.8,133.5 1187.3,133.4 1187.8,132.9 1188.3,133.1 1188.8,132.9 1189.3,132.9 1189.7,132.6 1190.2,132.3 1190.7,132.1 1191.2,132.0 1191.7,132.2 1192.2,132.0 1192.7,132.0 1193.2,131.7 1193.7,131.6 1194.2,131.8 1194.7,131.6 1195.2,131.5 1195.6,131.0 1196.1,131.0 1196.6,130.6 1197.1,130.8 1197.6,130.7 1198.2,131.5 1198.7,131.7 1199.2,131.8 1199.7,131.5 1200.2,131.3 1200.7,131.1 1201.1,130.4 1201.6,130.6 1202.2,130.9 1202.7,131.0 1203.2,130.9 1203.7,131.1 1204.2,131.4 1204.7,131.4 1205.2,130.9 1205.7,131.1 1206.2,130.9 1206.7,131.5 1207.2,131.7 1207.7,131.8 1208.2,131.8 1208.7,131.6 1209.2,131.9 1209.7,131.7 1210.2,132.0 1210.7,131.7 1211.2,131.7 1211.7,131.7 1212.2,131.8 1212.7,132.1 1212.7,132.0" stroke="#ff0000" stroke-width="8.4"/>
</g>
<text class="tk" transform="translate(132.7,705.2) scale(1,1.06)" text-anchor="end">0</text>
<text class="tk" transform="translate(132.7,592.7) scale(1,1.06)" text-anchor="end">20</text>
<text class="tk" transform="translate(132.7,480.2) scale(1,1.06)" text-anchor="end">40</text>
<text class="tk" transform="translate(132.7,367.8) scale(1,1.06)" text-anchor="end">60</text>
<text class="tk" transform="translate(132.7,255.3) scale(1,1.06)" text-anchor="end">80</text>
<text class="tk" transform="translate(132.7,142.8) scale(1,1.06)" text-anchor="end">100</text>
<text class="tk" transform="translate(132.7,30.3) scale(1,1.06)" text-anchor="end">120</text>
<text class="tk" transform="translate(149.0,740.4) scale(1,1.06)" text-anchor="middle">0</text>
<text class="tk" transform="translate(300.9,740.4) scale(1,1.06)" text-anchor="middle">1000</text>
<text class="tk" transform="translate(452.8,740.4) scale(1,1.06)" text-anchor="middle">2000</text>
<text class="tk" transform="translate(604.7,740.4) scale(1,1.06)" text-anchor="middle">3000</text>
<text class="tk" transform="translate(756.6,740.4) scale(1,1.06)" text-anchor="middle">4000</text>
<text class="tk" transform="translate(908.5,740.4) scale(1,1.06)" text-anchor="middle">5000</text>
<text class="tk" transform="translate(1060.4,740.4) scale(1,1.06)" text-anchor="middle">6000</text>
<text class="tk" transform="translate(1212.3,740.4) scale(1,1.06)" text-anchor="middle">7000</text>
<text class="ax" transform="translate(512.2,797.0) scale(1,1.05)" style="letter-spacing:2.37px" dx="0 0.35 0.35 0.35 0.35 0.35 0.35 0.35 0 0 0 1.5 0 -1.1">Elapsed time (s)</text>
<text class="ay" transform="translate(41.0,632.5) rotate(-90) scale(1,1.05)" dy="0 0 0 0 0 0 0 0 0 0 0 0 0 0 0 0 0 0 0 0 0 0 0 0 -25.5 25.5">Voice-coil temperature (<tspan font-size="25.5">o</tspan>C)</text>
<path d="M182 53.8H277" stroke="#ff0000" stroke-width="7.5" stroke-linecap="round"/>
<path d="M182 98.3H277" stroke="#000" stroke-width="7.5" stroke-linecap="round"/>
<text class="lg" transform="translate(288.5,66.3) scale(1,1.045)" dx="0 0.18 0.18 0.18 0.18 0.18 0.18 -1.62 0 0 -2.2 -0.3 -0.8 -0.8 0.2 4">Speaker 1 (200W)</text>
<text class="lg" transform="translate(288.5,110.6) scale(1,1.045)" dx="0 0.18 0.18 0.18 0.18 0.18 0.18 -1.62 0 0 -2.2 -0.3 -0.8 -0.8 0.2 4">Speaker 2 (100W)</text>
<text class="an" transform="translate(532.0,552.6) scale(1,1.045)" style="letter-spacing:2.35px">Input signal (Hz) : 2500</text>
<text class="an" transform="translate(532.5,596.5) scale(1,1.045)" style="letter-spacing:2.3px" dx="0 0.3 0.3 0.3 3.1 0.3 0.3 0.3 0.3 0.3 0.3 0.3 0.3 -0.7 0 2 2 0 -1 0 -0.6">Chamber size (mm) : 500/500/500</text>
<text class="an" transform="translate(533.0,648.2) scale(1,1.045)" style="letter-spacing:2.25px" dx="0 0 2.8 0 0 0 0 0 0 0 0 2.8 0 0 0 0 0 0 0 0 0 0 0 0 0 0 0 -0.7" dy="0 0 0 0 0 0 0 0 0 0 0 0 0 0 0 0 0 0 0 0 0 -18.9 18.9">Ambient temperature (<tspan font-size="22.5">o</tspan>C) : 20</text>
</svg>
</body></html>
